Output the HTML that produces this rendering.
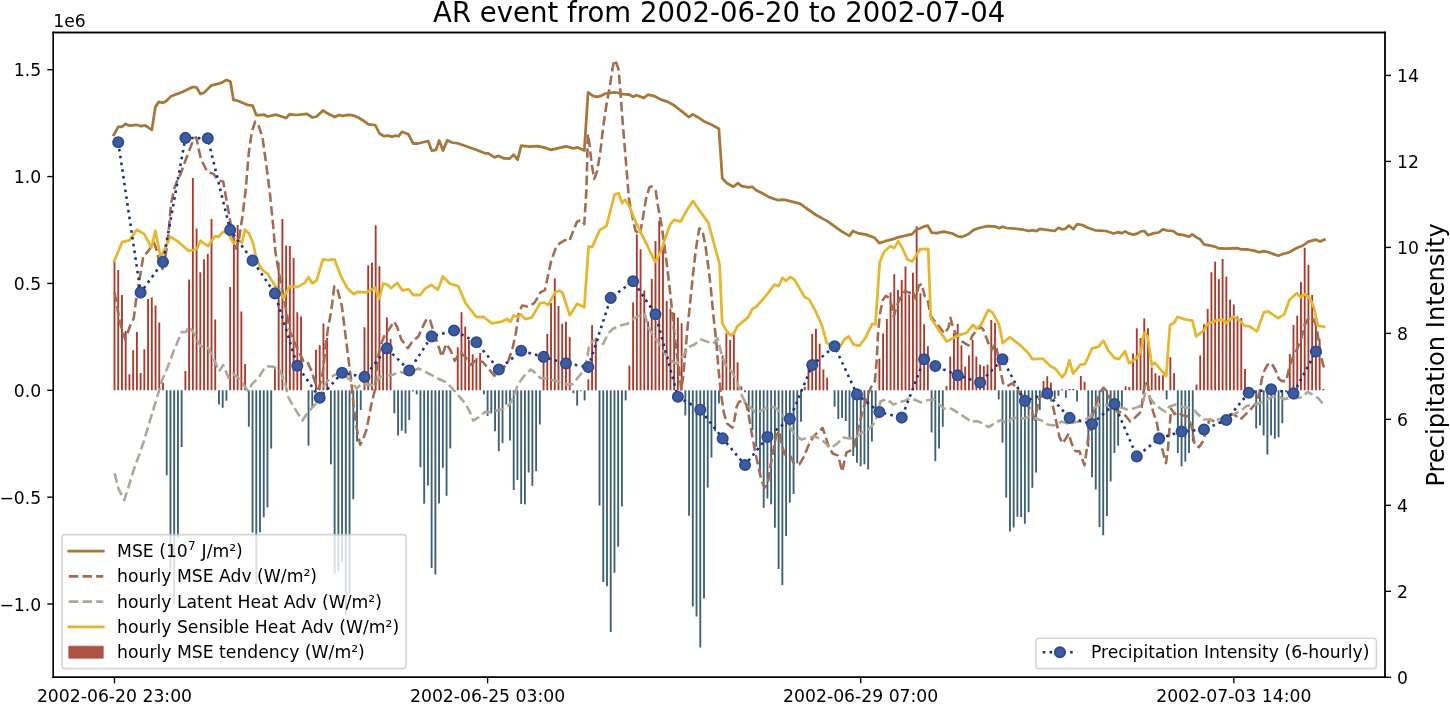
<!DOCTYPE html>
<html><head><meta charset="utf-8"><title>AR event from 2002-06-20 to 2002-07-04</title><style>html,body{margin:0;padding:0;background:#fff;overflow:hidden;}svg{display:block;}</style></head><body>
<svg width="1450" height="704" viewBox="0 0 841.935484 408.774194" version="1.1">
 
 <defs>
  <style type="text/css">*{stroke-linejoin: round; stroke-linecap: butt}</style>
 </defs>
 <g id="figure_1">
  <g id="patch_1">
   <path d="M 0 408.774194 
L 841.935484 408.774194 
L 841.935484 0 
L 0 0 
z
" style="fill: #ffffff"/>
  </g>
  <g id="axes_1">
   <g id="patch_2">
    <path d="M 30.948387 393.270968 
L 804.193548 393.270968 
L 804.193548 18.870968 
L 30.948387 18.870968 
z
" style="fill: #ffffff"/>
   </g>
   <g id="patch_3">
    <path d="M 65.942274 226.625806 
L 67.025468 226.625806 
L 67.025468 151.954839 
L 65.942274 151.954839 
z
" clip-path="url(#p5d248809db)" style="fill: #a93a2c"/>
   </g>
   <g id="patch_4">
    <path d="M 68.108661 226.625806 
L 69.191855 226.625806 
L 69.191855 156.774194 
L 68.108661 156.774194 
z
" clip-path="url(#p5d248809db)" style="fill: #a93a2c"/>
   </g>
   <g id="patch_5">
    <path d="M 70.275048 226.625806 
L 71.358242 226.625806 
L 71.358242 171.232258 
L 70.275048 171.232258 
z
" clip-path="url(#p5d248809db)" style="fill: #a93a2c"/>
   </g>
   <g id="patch_6">
    <path d="M 72.441435 226.625806 
L 73.524629 226.625806 
L 73.524629 192.135484 
L 72.441435 192.135484 
z
" clip-path="url(#p5d248809db)" style="fill: #a93a2c"/>
   </g>
   <g id="patch_7">
    <path d="M 74.607823 226.625806 
L 75.691016 226.625806 
L 75.691016 217.277419 
L 74.607823 217.277419 
z
" clip-path="url(#p5d248809db)" style="fill: #a93a2c"/>
   </g>
   <g id="patch_8">
    <path d="M 76.77421 226.625806 
L 77.857403 226.625806 
L 77.857403 203.4 
L 76.77421 203.4 
z
" clip-path="url(#p5d248809db)" style="fill: #a93a2c"/>
   </g>
   <g id="patch_9">
    <path d="M 78.940597 226.625806 
L 80.02379 226.625806 
L 80.02379 192.774194 
L 78.940597 192.774194 
z
" clip-path="url(#p5d248809db)" style="fill: #a93a2c"/>
   </g>
   <g id="patch_10">
    <path d="M 81.106984 226.625806 
L 82.190177 226.625806 
L 82.190177 216.522581 
L 81.106984 216.522581 
z
" clip-path="url(#p5d248809db)" style="fill: #a93a2c"/>
   </g>
   <g id="patch_11">
    <path d="M 83.273371 226.625806 
L 84.356565 226.625806 
L 84.356565 202.819355 
L 83.273371 202.819355 
z
" clip-path="url(#p5d248809db)" style="fill: #a93a2c"/>
   </g>
   <g id="patch_12">
    <path d="M 85.439758 226.625806 
L 86.522952 226.625806 
L 86.522952 173.612903 
L 85.439758 173.612903 
z
" clip-path="url(#p5d248809db)" style="fill: #a93a2c"/>
   </g>
   <g id="patch_13">
    <path d="M 87.606145 226.625806 
L 88.689339 226.625806 
L 88.689339 172.683871 
L 87.606145 172.683871 
z
" clip-path="url(#p5d248809db)" style="fill: #a93a2c"/>
   </g>
   <g id="patch_14">
    <path d="M 89.772532 226.625806 
L 90.855726 226.625806 
L 90.855726 177.445161 
L 89.772532 177.445161 
z
" clip-path="url(#p5d248809db)" style="fill: #a93a2c"/>
   </g>
   <g id="patch_15">
    <path d="M 91.938919 226.625806 
L 93.022113 226.625806 
L 93.022113 187.258065 
L 91.938919 187.258065 
z
" clip-path="url(#p5d248809db)" style="fill: #a93a2c"/>
   </g>
   <g id="patch_16">
    <path d="M 94.105306 226.625806 
L 95.1885 226.625806 
L 95.1885 222.270968 
L 94.105306 222.270968 
z
" clip-path="url(#p5d248809db)" style="fill: #a93a2c"/>
   </g>
   <g id="patch_17">
    <path d="M 96.271694 226.625806 
L 97.354887 226.625806 
L 97.354887 275.922581 
L 96.271694 275.922581 
z
" clip-path="url(#p5d248809db)" style="fill: #3e6075"/>
   </g>
   <g id="patch_18">
    <path d="M 98.438081 226.625806 
L 99.521274 226.625806 
L 99.521274 330.619355 
L 98.438081 330.619355 
z
" clip-path="url(#p5d248809db)" style="fill: #3e6075"/>
   </g>
   <g id="patch_19">
    <path d="M 100.604468 226.625806 
L 101.687661 226.625806 
L 101.687661 350.535484 
L 100.604468 350.535484 
z
" clip-path="url(#p5d248809db)" style="fill: #3e6075"/>
   </g>
   <g id="patch_20">
    <path d="M 102.770855 226.625806 
L 103.854048 226.625806 
L 103.854048 312.387097 
L 102.770855 312.387097 
z
" clip-path="url(#p5d248809db)" style="fill: #3e6075"/>
   </g>
   <g id="patch_21">
    <path d="M 104.937242 226.625806 
L 106.020435 226.625806 
L 106.020435 259.548387 
L 104.937242 259.548387 
z
" clip-path="url(#p5d248809db)" style="fill: #3e6075"/>
   </g>
   <g id="patch_22">
    <path d="M 107.103629 226.625806 
L 108.186823 226.625806 
L 108.186823 215.36129 
L 107.103629 215.36129 
z
" clip-path="url(#p5d248809db)" style="fill: #a93a2c"/>
   </g>
   <g id="patch_23">
    <path d="M 109.270016 226.625806 
L 110.35321 226.625806 
L 110.35321 162.232258 
L 109.270016 162.232258 
z
" clip-path="url(#p5d248809db)" style="fill: #a93a2c"/>
   </g>
   <g id="patch_24">
    <path d="M 111.436403 226.625806 
L 112.519597 226.625806 
L 112.519597 103.354839 
L 111.436403 103.354839 
z
" clip-path="url(#p5d248809db)" style="fill: #a93a2c"/>
   </g>
   <g id="patch_25">
    <path d="M 113.60279 226.625806 
L 114.685984 226.625806 
L 114.685984 132.677419 
L 113.60279 132.677419 
z
" clip-path="url(#p5d248809db)" style="fill: #a93a2c"/>
   </g>
   <g id="patch_26">
    <path d="M 115.769177 226.625806 
L 116.852371 226.625806 
L 116.852371 158.051613 
L 115.769177 158.051613 
z
" clip-path="url(#p5d248809db)" style="fill: #a93a2c"/>
   </g>
   <g id="patch_27">
    <path d="M 117.935565 226.625806 
L 119.018758 226.625806 
L 119.018758 150.56129 
L 117.935565 150.56129 
z
" clip-path="url(#p5d248809db)" style="fill: #a93a2c"/>
   </g>
   <g id="patch_28">
    <path d="M 120.101952 226.625806 
L 121.185145 226.625806 
L 121.185145 147.541935 
L 120.101952 147.541935 
z
" clip-path="url(#p5d248809db)" style="fill: #a93a2c"/>
   </g>
   <g id="patch_29">
    <path d="M 122.268339 226.625806 
L 123.351532 226.625806 
L 123.351532 127.103226 
L 122.268339 127.103226 
z
" clip-path="url(#p5d248809db)" style="fill: #a93a2c"/>
   </g>
   <g id="patch_30">
    <path d="M 124.434726 226.625806 
L 125.517919 226.625806 
L 125.517919 185.458065 
L 124.434726 185.458065 
z
" clip-path="url(#p5d248809db)" style="fill: #a93a2c"/>
   </g>
   <g id="patch_31">
    <path d="M 126.601113 226.625806 
L 127.684306 226.625806 
L 127.684306 234.929032 
L 126.601113 234.929032 
z
" clip-path="url(#p5d248809db)" style="fill: #3e6075"/>
   </g>
   <g id="patch_32">
    <path d="M 128.7675 226.625806 
L 129.850694 226.625806 
L 129.850694 236.787097 
L 128.7675 236.787097 
z
" clip-path="url(#p5d248809db)" style="fill: #3e6075"/>
   </g>
   <g id="patch_33">
    <path d="M 130.933887 226.625806 
L 132.017081 226.625806 
L 132.017081 232.664516 
L 130.933887 232.664516 
z
" clip-path="url(#p5d248809db)" style="fill: #3e6075"/>
   </g>
   <g id="patch_34">
    <path d="M 133.100274 226.625806 
L 134.183468 226.625806 
L 134.183468 166.703226 
L 133.100274 166.703226 
z
" clip-path="url(#p5d248809db)" style="fill: #a93a2c"/>
   </g>
   <g id="patch_35">
    <path d="M 135.266661 226.625806 
L 136.349855 226.625806 
L 136.349855 135.812903 
L 135.266661 135.812903 
z
" clip-path="url(#p5d248809db)" style="fill: #a93a2c"/>
   </g>
   <g id="patch_36">
    <path d="M 137.433048 226.625806 
L 138.516242 226.625806 
L 138.516242 130.645161 
L 137.433048 130.645161 
z
" clip-path="url(#p5d248809db)" style="fill: #a93a2c"/>
   </g>
   <g id="patch_37">
    <path d="M 139.599435 226.625806 
L 140.682629 226.625806 
L 140.682629 180.812903 
L 139.599435 180.812903 
z
" clip-path="url(#p5d248809db)" style="fill: #a93a2c"/>
   </g>
   <g id="patch_38">
    <path d="M 141.765823 226.625806 
L 142.849016 226.625806 
L 142.849016 211.296774 
L 141.765823 211.296774 
z
" clip-path="url(#p5d248809db)" style="fill: #a93a2c"/>
   </g>
   <g id="patch_39">
    <path d="M 143.93221 226.625806 
L 145.015403 226.625806 
L 145.015403 247.819355 
L 143.93221 247.819355 
z
" clip-path="url(#p5d248809db)" style="fill: #3e6075"/>
   </g>
   <g id="patch_40">
    <path d="M 146.098597 226.625806 
L 147.18179 226.625806 
L 147.18179 309.193548 
L 146.098597 309.193548 
z
" clip-path="url(#p5d248809db)" style="fill: #3e6075"/>
   </g>
   <g id="patch_41">
    <path d="M 148.264984 226.625806 
L 149.348177 226.625806 
L 149.348177 339.154839 
L 148.264984 339.154839 
z
" clip-path="url(#p5d248809db)" style="fill: #3e6075"/>
   </g>
   <g id="patch_42">
    <path d="M 150.431371 226.625806 
L 151.514565 226.625806 
L 151.514565 309.193548 
L 150.431371 309.193548 
z
" clip-path="url(#p5d248809db)" style="fill: #3e6075"/>
   </g>
   <g id="patch_43">
    <path d="M 152.597758 226.625806 
L 153.680952 226.625806 
L 153.680952 300.309677 
L 152.597758 300.309677 
z
" clip-path="url(#p5d248809db)" style="fill: #3e6075"/>
   </g>
   <g id="patch_44">
    <path d="M 154.764145 226.625806 
L 155.847339 226.625806 
L 155.847339 294.619355 
L 154.764145 294.619355 
z
" clip-path="url(#p5d248809db)" style="fill: #3e6075"/>
   </g>
   <g id="patch_45">
    <path d="M 156.930532 226.625806 
L 158.013726 226.625806 
L 158.013726 260.477419 
L 156.930532 260.477419 
z
" clip-path="url(#p5d248809db)" style="fill: #3e6075"/>
   </g>
   <g id="patch_46">
    <path d="M 159.096919 226.625806 
L 160.180113 226.625806 
L 160.180113 212.748387 
L 159.096919 212.748387 
z
" clip-path="url(#p5d248809db)" style="fill: #a93a2c"/>
   </g>
   <g id="patch_47">
    <path d="M 161.263306 226.625806 
L 162.3465 226.625806 
L 162.3465 152.36129 
L 161.263306 152.36129 
z
" clip-path="url(#p5d248809db)" style="fill: #a93a2c"/>
   </g>
   <g id="patch_48">
    <path d="M 163.429694 226.625806 
L 164.512887 226.625806 
L 164.512887 127.103226 
L 163.429694 127.103226 
z
" clip-path="url(#p5d248809db)" style="fill: #a93a2c"/>
   </g>
   <g id="patch_49">
    <path d="M 165.596081 226.625806 
L 166.679274 226.625806 
L 166.679274 142.490323 
L 165.596081 142.490323 
z
" clip-path="url(#p5d248809db)" style="fill: #a93a2c"/>
   </g>
   <g id="patch_50">
    <path d="M 167.762468 226.625806 
L 168.845661 226.625806 
L 168.845661 142.83871 
L 167.762468 142.83871 
z
" clip-path="url(#p5d248809db)" style="fill: #a93a2c"/>
   </g>
   <g id="patch_51">
    <path d="M 169.928855 226.625806 
L 171.012048 226.625806 
L 171.012048 149.806452 
L 169.928855 149.806452 
z
" clip-path="url(#p5d248809db)" style="fill: #a93a2c"/>
   </g>
   <g id="patch_52">
    <path d="M 172.095242 226.625806 
L 173.178435 226.625806 
L 173.178435 181.277419 
L 172.095242 181.277419 
z
" clip-path="url(#p5d248809db)" style="fill: #a93a2c"/>
   </g>
   <g id="patch_53">
    <path d="M 174.261629 226.625806 
L 175.344823 226.625806 
L 175.344823 183.716129 
L 174.261629 183.716129 
z
" clip-path="url(#p5d248809db)" style="fill: #a93a2c"/>
   </g>
   <g id="patch_54">
    <path d="M 176.428016 226.625806 
L 177.51121 226.625806 
L 177.51121 226.625806 
L 176.428016 226.625806 
z
" clip-path="url(#p5d248809db)" style="fill: #a93a2c"/>
   </g>
   <g id="patch_55">
    <path d="M 178.594403 226.625806 
L 179.677597 226.625806 
L 179.677597 258.793548 
L 178.594403 258.793548 
z
" clip-path="url(#p5d248809db)" style="fill: #3e6075"/>
   </g>
   <g id="patch_56">
    <path d="M 180.76079 226.625806 
L 181.843984 226.625806 
L 181.843984 236.090323 
L 180.76079 236.090323 
z
" clip-path="url(#p5d248809db)" style="fill: #3e6075"/>
   </g>
   <g id="patch_57">
    <path d="M 182.927177 226.625806 
L 184.010371 226.625806 
L 184.010371 203.109677 
L 182.927177 203.109677 
z
" clip-path="url(#p5d248809db)" style="fill: #a93a2c"/>
   </g>
   <g id="patch_58">
    <path d="M 185.093565 226.625806 
L 186.176758 226.625806 
L 186.176758 200.380645 
L 185.093565 200.380645 
z
" clip-path="url(#p5d248809db)" style="fill: #a93a2c"/>
   </g>
   <g id="patch_59">
    <path d="M 187.259952 226.625806 
L 188.343145 226.625806 
L 188.343145 187.83871 
L 187.259952 187.83871 
z
" clip-path="url(#p5d248809db)" style="fill: #a93a2c"/>
   </g>
   <g id="patch_60">
    <path d="M 189.426339 226.625806 
L 190.509532 226.625806 
L 190.509532 196.258065 
L 189.426339 196.258065 
z
" clip-path="url(#p5d248809db)" style="fill: #a93a2c"/>
   </g>
   <g id="patch_61">
    <path d="M 191.592726 226.625806 
L 192.675919 226.625806 
L 192.675919 269.593548 
L 191.592726 269.593548 
z
" clip-path="url(#p5d248809db)" style="fill: #3e6075"/>
   </g>
   <g id="patch_62">
    <path d="M 193.759113 226.625806 
L 194.842306 226.625806 
L 194.842306 333.348387 
L 193.759113 333.348387 
z
" clip-path="url(#p5d248809db)" style="fill: #3e6075"/>
   </g>
   <g id="patch_63">
    <path d="M 195.9255 226.625806 
L 197.008694 226.625806 
L 197.008694 331.548387 
L 195.9255 331.548387 
z
" clip-path="url(#p5d248809db)" style="fill: #3e6075"/>
   </g>
   <g id="patch_64">
    <path d="M 198.091887 226.625806 
L 199.175081 226.625806 
L 199.175081 326.206452 
L 198.091887 326.206452 
z
" clip-path="url(#p5d248809db)" style="fill: #3e6075"/>
   </g>
   <g id="patch_65">
    <path d="M 200.258274 226.625806 
L 201.341468 226.625806 
L 201.341468 357.270968 
L 200.258274 357.270968 
z
" clip-path="url(#p5d248809db)" style="fill: #3e6075"/>
   </g>
   <g id="patch_66">
    <path d="M 202.424661 226.625806 
L 203.507855 226.625806 
L 203.507855 344.729032 
L 202.424661 344.729032 
z
" clip-path="url(#p5d248809db)" style="fill: #3e6075"/>
   </g>
   <g id="patch_67">
    <path d="M 204.591048 226.625806 
L 205.674242 226.625806 
L 205.674242 289.916129 
L 204.591048 289.916129 
z
" clip-path="url(#p5d248809db)" style="fill: #3e6075"/>
   </g>
   <g id="patch_68">
    <path d="M 206.757435 226.625806 
L 207.840629 226.625806 
L 207.840629 256.412903 
L 206.757435 256.412903 
z
" clip-path="url(#p5d248809db)" style="fill: #3e6075"/>
   </g>
   <g id="patch_69">
    <path d="M 208.923823 226.625806 
L 210.007016 226.625806 
L 210.007016 238.122581 
L 208.923823 238.122581 
z
" clip-path="url(#p5d248809db)" style="fill: #3e6075"/>
   </g>
   <g id="patch_70">
    <path d="M 211.09021 226.625806 
L 212.173403 226.625806 
L 212.173403 189.987097 
L 211.09021 189.987097 
z
" clip-path="url(#p5d248809db)" style="fill: #a93a2c"/>
   </g>
   <g id="patch_71">
    <path d="M 213.256597 226.625806 
L 214.33979 226.625806 
L 214.33979 154.045161 
L 213.256597 154.045161 
z
" clip-path="url(#p5d248809db)" style="fill: #a93a2c"/>
   </g>
   <g id="patch_72">
    <path d="M 215.422984 226.625806 
L 216.506177 226.625806 
L 216.506177 152.593548 
L 215.422984 152.593548 
z
" clip-path="url(#p5d248809db)" style="fill: #a93a2c"/>
   </g>
   <g id="patch_73">
    <path d="M 217.589371 226.625806 
L 218.672565 226.625806 
L 218.672565 130.819355 
L 217.589371 130.819355 
z
" clip-path="url(#p5d248809db)" style="fill: #a93a2c"/>
   </g>
   <g id="patch_74">
    <path d="M 219.755758 226.625806 
L 220.838952 226.625806 
L 220.838952 154.567742 
L 219.755758 154.567742 
z
" clip-path="url(#p5d248809db)" style="fill: #a93a2c"/>
   </g>
   <g id="patch_75">
    <path d="M 221.922145 226.625806 
L 223.005339 226.625806 
L 223.005339 202.064516 
L 221.922145 202.064516 
z
" clip-path="url(#p5d248809db)" style="fill: #a93a2c"/>
   </g>
   <g id="patch_76">
    <path d="M 224.088532 226.625806 
L 225.171726 226.625806 
L 225.171726 184.296774 
L 224.088532 184.296774 
z
" clip-path="url(#p5d248809db)" style="fill: #a93a2c"/>
   </g>
   <g id="patch_77">
    <path d="M 226.254919 226.625806 
L 227.338113 226.625806 
L 227.338113 196.780645 
L 226.254919 196.780645 
z
" clip-path="url(#p5d248809db)" style="fill: #a93a2c"/>
   </g>
   <g id="patch_78">
    <path d="M 228.421306 226.625806 
L 229.5045 226.625806 
L 229.5045 240.03871 
L 228.421306 240.03871 
z
" clip-path="url(#p5d248809db)" style="fill: #3e6075"/>
   </g>
   <g id="patch_79">
    <path d="M 230.587694 226.625806 
L 231.670887 226.625806 
L 231.670887 252.870968 
L 230.587694 252.870968 
z
" clip-path="url(#p5d248809db)" style="fill: #3e6075"/>
   </g>
   <g id="patch_80">
    <path d="M 232.754081 226.625806 
L 233.837274 226.625806 
L 233.837274 250.083871 
L 232.754081 250.083871 
z
" clip-path="url(#p5d248809db)" style="fill: #3e6075"/>
   </g>
   <g id="patch_81">
    <path d="M 234.920468 226.625806 
L 236.003661 226.625806 
L 236.003661 251.651613 
L 234.920468 251.651613 
z
" clip-path="url(#p5d248809db)" style="fill: #3e6075"/>
   </g>
   <g id="patch_82">
    <path d="M 237.086855 226.625806 
L 238.170048 226.625806 
L 238.170048 243.870968 
L 237.086855 243.870968 
z
" clip-path="url(#p5d248809db)" style="fill: #3e6075"/>
   </g>
   <g id="patch_83">
    <path d="M 239.253242 226.625806 
L 240.336435 226.625806 
L 240.336435 227.380645 
L 239.253242 227.380645 
z
" clip-path="url(#p5d248809db)" style="fill: #3e6075"/>
   </g>
   <g id="patch_84">
    <path d="M 241.419629 226.625806 
L 242.502823 226.625806 
L 242.502823 228.948387 
L 241.419629 228.948387 
z
" clip-path="url(#p5d248809db)" style="fill: #3e6075"/>
   </g>
   <g id="patch_85">
    <path d="M 243.586016 226.625806 
L 244.66921 226.625806 
L 244.66921 271.393548 
L 243.586016 271.393548 
z
" clip-path="url(#p5d248809db)" style="fill: #3e6075"/>
   </g>
   <g id="patch_86">
    <path d="M 245.752403 226.625806 
L 246.835597 226.625806 
L 246.835597 292.470968 
L 245.752403 292.470968 
z
" clip-path="url(#p5d248809db)" style="fill: #3e6075"/>
   </g>
   <g id="patch_87">
    <path d="M 247.91879 226.625806 
L 249.001984 226.625806 
L 249.001984 281.96129 
L 247.91879 281.96129 
z
" clip-path="url(#p5d248809db)" style="fill: #3e6075"/>
   </g>
   <g id="patch_88">
    <path d="M 250.085177 226.625806 
L 251.168371 226.625806 
L 251.168371 329.806452 
L 250.085177 329.806452 
z
" clip-path="url(#p5d248809db)" style="fill: #3e6075"/>
   </g>
   <g id="patch_89">
    <path d="M 252.251565 226.625806 
L 253.334758 226.625806 
L 253.334758 333.580645 
L 252.251565 333.580645 
z
" clip-path="url(#p5d248809db)" style="fill: #3e6075"/>
   </g>
   <g id="patch_90">
    <path d="M 254.417952 226.625806 
L 255.501145 226.625806 
L 255.501145 292.296774 
L 254.417952 292.296774 
z
" clip-path="url(#p5d248809db)" style="fill: #3e6075"/>
   </g>
   <g id="patch_91">
    <path d="M 256.584339 226.625806 
L 257.667532 226.625806 
L 257.667532 271.625806 
L 256.584339 271.625806 
z
" clip-path="url(#p5d248809db)" style="fill: #3e6075"/>
   </g>
   <g id="patch_92">
    <path d="M 258.750726 226.625806 
L 259.833919 226.625806 
L 259.833919 287.883871 
L 258.750726 287.883871 
z
" clip-path="url(#p5d248809db)" style="fill: #3e6075"/>
   </g>
   <g id="patch_93">
    <path d="M 260.917113 226.625806 
L 262.000306 226.625806 
L 262.000306 260.36129 
L 260.917113 260.36129 
z
" clip-path="url(#p5d248809db)" style="fill: #3e6075"/>
   </g>
   <g id="patch_94">
    <path d="M 263.0835 226.625806 
L 264.166694 226.625806 
L 264.166694 226.625806 
L 263.0835 226.625806 
z
" clip-path="url(#p5d248809db)" style="fill: #a93a2c"/>
   </g>
   <g id="patch_95">
    <path d="M 265.249887 226.625806 
L 266.333081 226.625806 
L 266.333081 201.6 
L 265.249887 201.6 
z
" clip-path="url(#p5d248809db)" style="fill: #a93a2c"/>
   </g>
   <g id="patch_96">
    <path d="M 267.416274 226.625806 
L 268.499468 226.625806 
L 268.499468 181.277419 
L 267.416274 181.277419 
z
" clip-path="url(#p5d248809db)" style="fill: #a93a2c"/>
   </g>
   <g id="patch_97">
    <path d="M 269.582661 226.625806 
L 270.665855 226.625806 
L 270.665855 189.63871 
L 269.582661 189.63871 
z
" clip-path="url(#p5d248809db)" style="fill: #a93a2c"/>
   </g>
   <g id="patch_98">
    <path d="M 271.749048 226.625806 
L 272.832242 226.625806 
L 272.832242 197.419355 
L 271.749048 197.419355 
z
" clip-path="url(#p5d248809db)" style="fill: #a93a2c"/>
   </g>
   <g id="patch_99">
    <path d="M 273.915435 226.625806 
L 274.998629 226.625806 
L 274.998629 205.780645 
L 273.915435 205.780645 
z
" clip-path="url(#p5d248809db)" style="fill: #a93a2c"/>
   </g>
   <g id="patch_100">
    <path d="M 276.081823 226.625806 
L 277.165016 226.625806 
L 277.165016 207.929032 
L 276.081823 207.929032 
z
" clip-path="url(#p5d248809db)" style="fill: #a93a2c"/>
   </g>
   <g id="patch_101">
    <path d="M 278.24821 226.625806 
L 279.331403 226.625806 
L 279.331403 204.967742 
L 278.24821 204.967742 
z
" clip-path="url(#p5d248809db)" style="fill: #a93a2c"/>
   </g>
   <g id="patch_102">
    <path d="M 280.414597 226.625806 
L 281.49779 226.625806 
L 281.49779 228.948387 
L 280.414597 228.948387 
z
" clip-path="url(#p5d248809db)" style="fill: #3e6075"/>
   </g>
   <g id="patch_103">
    <path d="M 282.580984 226.625806 
L 283.664177 226.625806 
L 283.664177 241.490323 
L 282.580984 241.490323 
z
" clip-path="url(#p5d248809db)" style="fill: #3e6075"/>
   </g>
   <g id="patch_104">
    <path d="M 284.747371 226.625806 
L 285.830565 226.625806 
L 285.830565 240.03871 
L 284.747371 240.03871 
z
" clip-path="url(#p5d248809db)" style="fill: #3e6075"/>
   </g>
   <g id="patch_105">
    <path d="M 286.913758 226.625806 
L 287.996952 226.625806 
L 287.996952 250.432258 
L 286.913758 250.432258 
z
" clip-path="url(#p5d248809db)" style="fill: #3e6075"/>
   </g>
   <g id="patch_106">
    <path d="M 289.080145 226.625806 
L 290.163339 226.625806 
L 290.163339 262.045161 
L 289.080145 262.045161 
z
" clip-path="url(#p5d248809db)" style="fill: #3e6075"/>
   </g>
   <g id="patch_107">
    <path d="M 291.246532 226.625806 
L 292.329726 226.625806 
L 292.329726 257.283871 
L 291.246532 257.283871 
z
" clip-path="url(#p5d248809db)" style="fill: #3e6075"/>
   </g>
   <g id="patch_108">
    <path d="M 293.412919 226.625806 
L 294.496113 226.625806 
L 294.496113 234.929032 
L 293.412919 234.929032 
z
" clip-path="url(#p5d248809db)" style="fill: #3e6075"/>
   </g>
   <g id="patch_109">
    <path d="M 295.579306 226.625806 
L 296.6625 226.625806 
L 296.6625 255.832258 
L 295.579306 255.832258 
z
" clip-path="url(#p5d248809db)" style="fill: #3e6075"/>
   </g>
   <g id="patch_110">
    <path d="M 297.745694 226.625806 
L 298.828887 226.625806 
L 298.828887 284.516129 
L 297.745694 284.516129 
z
" clip-path="url(#p5d248809db)" style="fill: #3e6075"/>
   </g>
   <g id="patch_111">
    <path d="M 299.912081 226.625806 
L 300.995274 226.625806 
L 300.995274 278.767742 
L 299.912081 278.767742 
z
" clip-path="url(#p5d248809db)" style="fill: #3e6075"/>
   </g>
   <g id="patch_112">
    <path d="M 302.078468 226.625806 
L 303.161661 226.625806 
L 303.161661 292.645161 
L 302.078468 292.645161 
z
" clip-path="url(#p5d248809db)" style="fill: #3e6075"/>
   </g>
   <g id="patch_113">
    <path d="M 304.244855 226.625806 
L 305.328048 226.625806 
L 305.328048 292.877419 
L 304.244855 292.877419 
z
" clip-path="url(#p5d248809db)" style="fill: #3e6075"/>
   </g>
   <g id="patch_114">
    <path d="M 306.411242 226.625806 
L 307.494435 226.625806 
L 307.494435 274.354839 
L 306.411242 274.354839 
z
" clip-path="url(#p5d248809db)" style="fill: #3e6075"/>
   </g>
   <g id="patch_115">
    <path d="M 308.577629 226.625806 
L 309.660823 226.625806 
L 309.660823 282.135484 
L 308.577629 282.135484 
z
" clip-path="url(#p5d248809db)" style="fill: #3e6075"/>
   </g>
   <g id="patch_116">
    <path d="M 310.744016 226.625806 
L 311.82721 226.625806 
L 311.82721 273.541935 
L 310.744016 273.541935 
z
" clip-path="url(#p5d248809db)" style="fill: #3e6075"/>
   </g>
   <g id="patch_117">
    <path d="M 312.910403 226.625806 
L 313.993597 226.625806 
L 313.993597 246.483871 
L 312.910403 246.483871 
z
" clip-path="url(#p5d248809db)" style="fill: #3e6075"/>
   </g>
   <g id="patch_118">
    <path d="M 315.07679 226.625806 
L 316.159984 226.625806 
L 316.159984 210.658065 
L 315.07679 210.658065 
z
" clip-path="url(#p5d248809db)" style="fill: #a93a2c"/>
   </g>
   <g id="patch_119">
    <path d="M 317.243177 226.625806 
L 318.326371 226.625806 
L 318.326371 193.935484 
L 317.243177 193.935484 
z
" clip-path="url(#p5d248809db)" style="fill: #a93a2c"/>
   </g>
   <g id="patch_120">
    <path d="M 319.409565 226.625806 
L 320.492758 226.625806 
L 320.492758 175.993548 
L 319.409565 175.993548 
z
" clip-path="url(#p5d248809db)" style="fill: #a93a2c"/>
   </g>
   <g id="patch_121">
    <path d="M 321.575952 226.625806 
L 322.659145 226.625806 
L 322.659145 161.651613 
L 321.575952 161.651613 
z
" clip-path="url(#p5d248809db)" style="fill: #a93a2c"/>
   </g>
   <g id="patch_122">
    <path d="M 323.742339 226.625806 
L 324.825532 226.625806 
L 324.825532 177.677419 
L 323.742339 177.677419 
z
" clip-path="url(#p5d248809db)" style="fill: #a93a2c"/>
   </g>
   <g id="patch_123">
    <path d="M 325.908726 226.625806 
L 326.991919 226.625806 
L 326.991919 187.954839 
L 325.908726 187.954839 
z
" clip-path="url(#p5d248809db)" style="fill: #a93a2c"/>
   </g>
   <g id="patch_124">
    <path d="M 328.075113 226.625806 
L 329.158306 226.625806 
L 329.158306 186.793548 
L 328.075113 186.793548 
z
" clip-path="url(#p5d248809db)" style="fill: #a93a2c"/>
   </g>
   <g id="patch_125">
    <path d="M 330.2415 226.625806 
L 331.324694 226.625806 
L 331.324694 195.619355 
L 330.2415 195.619355 
z
" clip-path="url(#p5d248809db)" style="fill: #a93a2c"/>
   </g>
   <g id="patch_126">
    <path d="M 332.407887 226.625806 
L 333.491081 226.625806 
L 333.491081 228.309677 
L 332.407887 228.309677 
z
" clip-path="url(#p5d248809db)" style="fill: #3e6075"/>
   </g>
   <g id="patch_127">
    <path d="M 334.574274 226.625806 
L 335.657468 226.625806 
L 335.657468 235.509677 
L 334.574274 235.509677 
z
" clip-path="url(#p5d248809db)" style="fill: #3e6075"/>
   </g>
   <g id="patch_128">
    <path d="M 336.740661 226.625806 
L 337.823855 226.625806 
L 337.823855 227.148387 
L 336.740661 227.148387 
z
" clip-path="url(#p5d248809db)" style="fill: #3e6075"/>
   </g>
   <g id="patch_129">
    <path d="M 338.907048 226.625806 
L 339.990242 226.625806 
L 339.990242 232.490323 
L 338.907048 232.490323 
z
" clip-path="url(#p5d248809db)" style="fill: #3e6075"/>
   </g>
   <g id="patch_130">
    <path d="M 341.073435 226.625806 
L 342.156629 226.625806 
L 342.156629 220.296774 
L 341.073435 220.296774 
z
" clip-path="url(#p5d248809db)" style="fill: #a93a2c"/>
   </g>
   <g id="patch_131">
    <path d="M 343.239823 226.625806 
L 344.323016 226.625806 
L 344.323016 188.767742 
L 343.239823 188.767742 
z
" clip-path="url(#p5d248809db)" style="fill: #a93a2c"/>
   </g>
   <g id="patch_132">
    <path d="M 345.40621 226.625806 
L 346.489403 226.625806 
L 346.489403 196.2 
L 345.40621 196.2 
z
" clip-path="url(#p5d248809db)" style="fill: #a93a2c"/>
   </g>
   <g id="patch_133">
    <path d="M 347.572597 226.625806 
L 348.65579 226.625806 
L 348.65579 293.516129 
L 347.572597 293.516129 
z
" clip-path="url(#p5d248809db)" style="fill: #3e6075"/>
   </g>
   <g id="patch_134">
    <path d="M 349.738984 226.625806 
L 350.822177 226.625806 
L 350.822177 337.993548 
L 349.738984 337.993548 
z
" clip-path="url(#p5d248809db)" style="fill: #3e6075"/>
   </g>
   <g id="patch_135">
    <path d="M 351.905371 226.625806 
L 352.988565 226.625806 
L 352.988565 340.374194 
L 351.905371 340.374194 
z
" clip-path="url(#p5d248809db)" style="fill: #3e6075"/>
   </g>
   <g id="patch_136">
    <path d="M 354.071758 226.625806 
L 355.154952 226.625806 
L 355.154952 366.909677 
L 354.071758 366.909677 
z
" clip-path="url(#p5d248809db)" style="fill: #3e6075"/>
   </g>
   <g id="patch_137">
    <path d="M 356.238145 226.625806 
L 357.321339 226.625806 
L 357.321339 332.593548 
L 356.238145 332.593548 
z
" clip-path="url(#p5d248809db)" style="fill: #3e6075"/>
   </g>
   <g id="patch_138">
    <path d="M 358.404532 226.625806 
L 359.487726 226.625806 
L 359.487726 317.43871 
L 358.404532 317.43871 
z
" clip-path="url(#p5d248809db)" style="fill: #3e6075"/>
   </g>
   <g id="patch_139">
    <path d="M 360.570919 226.625806 
L 361.654113 226.625806 
L 361.654113 294.096774 
L 360.570919 294.096774 
z
" clip-path="url(#p5d248809db)" style="fill: #3e6075"/>
   </g>
   <g id="patch_140">
    <path d="M 362.737306 226.625806 
L 363.8205 226.625806 
L 363.8205 232.490323 
L 362.737306 232.490323 
z
" clip-path="url(#p5d248809db)" style="fill: #3e6075"/>
   </g>
   <g id="patch_141">
    <path d="M 364.903694 226.625806 
L 365.986887 226.625806 
L 365.986887 212.225806 
L 364.903694 212.225806 
z
" clip-path="url(#p5d248809db)" style="fill: #a93a2c"/>
   </g>
   <g id="patch_142">
    <path d="M 367.070081 226.625806 
L 368.153274 226.625806 
L 368.153274 175.587097 
L 367.070081 175.587097 
z
" clip-path="url(#p5d248809db)" style="fill: #a93a2c"/>
   </g>
   <g id="patch_143">
    <path d="M 369.236468 226.625806 
L 370.319661 226.625806 
L 370.319661 136.219355 
L 369.236468 136.219355 
z
" clip-path="url(#p5d248809db)" style="fill: #a93a2c"/>
   </g>
   <g id="patch_144">
    <path d="M 371.402855 226.625806 
L 372.486048 226.625806 
L 372.486048 144.754839 
L 371.402855 144.754839 
z
" clip-path="url(#p5d248809db)" style="fill: #a93a2c"/>
   </g>
   <g id="patch_145">
    <path d="M 373.569242 226.625806 
L 374.652435 226.625806 
L 374.652435 168.677419 
L 373.569242 168.677419 
z
" clip-path="url(#p5d248809db)" style="fill: #a93a2c"/>
   </g>
   <g id="patch_146">
    <path d="M 375.735629 226.625806 
L 376.818823 226.625806 
L 376.818823 186.503226 
L 375.735629 186.503226 
z
" clip-path="url(#p5d248809db)" style="fill: #a93a2c"/>
   </g>
   <g id="patch_147">
    <path d="M 377.902016 226.625806 
L 378.98521 226.625806 
L 378.98521 161.941935 
L 377.902016 161.941935 
z
" clip-path="url(#p5d248809db)" style="fill: #a93a2c"/>
   </g>
   <g id="patch_148">
    <path d="M 380.068403 226.625806 
L 381.151597 226.625806 
L 381.151597 139.935484 
L 380.068403 139.935484 
z
" clip-path="url(#p5d248809db)" style="fill: #a93a2c"/>
   </g>
   <g id="patch_149">
    <path d="M 382.23479 226.625806 
L 383.317984 226.625806 
L 383.317984 128.206452 
L 382.23479 128.206452 
z
" clip-path="url(#p5d248809db)" style="fill: #a93a2c"/>
   </g>
   <g id="patch_150">
    <path d="M 384.401177 226.625806 
L 385.484371 226.625806 
L 385.484371 141.03871 
L 384.401177 141.03871 
z
" clip-path="url(#p5d248809db)" style="fill: #a93a2c"/>
   </g>
   <g id="patch_151">
    <path d="M 386.567565 226.625806 
L 387.650758 226.625806 
L 387.650758 174.774194 
L 386.567565 174.774194 
z
" clip-path="url(#p5d248809db)" style="fill: #a93a2c"/>
   </g>
   <g id="patch_152">
    <path d="M 388.733952 226.625806 
L 389.817145 226.625806 
L 389.817145 179.129032 
L 388.733952 179.129032 
z
" clip-path="url(#p5d248809db)" style="fill: #a93a2c"/>
   </g>
   <g id="patch_153">
    <path d="M 390.900339 226.625806 
L 391.983532 226.625806 
L 391.983532 181.683871 
L 390.900339 181.683871 
z
" clip-path="url(#p5d248809db)" style="fill: #a93a2c"/>
   </g>
   <g id="patch_154">
    <path d="M 393.066726 226.625806 
L 394.149919 226.625806 
L 394.149919 184.412903 
L 393.066726 184.412903 
z
" clip-path="url(#p5d248809db)" style="fill: #a93a2c"/>
   </g>
   <g id="patch_155">
    <path d="M 395.233113 226.625806 
L 396.316306 226.625806 
L 396.316306 187.664516 
L 395.233113 187.664516 
z
" clip-path="url(#p5d248809db)" style="fill: #a93a2c"/>
   </g>
   <g id="patch_156">
    <path d="M 397.3995 226.625806 
L 398.482694 226.625806 
L 398.482694 241.258065 
L 397.3995 241.258065 
z
" clip-path="url(#p5d248809db)" style="fill: #3e6075"/>
   </g>
   <g id="patch_157">
    <path d="M 399.565887 226.625806 
L 400.649081 226.625806 
L 400.649081 299.496774 
L 399.565887 299.496774 
z
" clip-path="url(#p5d248809db)" style="fill: #3e6075"/>
   </g>
   <g id="patch_158">
    <path d="M 401.732274 226.625806 
L 402.815468 226.625806 
L 402.815468 352.103226 
L 401.732274 352.103226 
z
" clip-path="url(#p5d248809db)" style="fill: #3e6075"/>
   </g>
   <g id="patch_159">
    <path d="M 403.898661 226.625806 
L 404.981855 226.625806 
L 404.981855 357.967742 
L 403.898661 357.967742 
z
" clip-path="url(#p5d248809db)" style="fill: #3e6075"/>
   </g>
   <g id="patch_160">
    <path d="M 406.065048 226.625806 
L 407.148242 226.625806 
L 407.148242 376.025806 
L 406.065048 376.025806 
z
" clip-path="url(#p5d248809db)" style="fill: #3e6075"/>
   </g>
   <g id="patch_161">
    <path d="M 408.231435 226.625806 
L 409.314629 226.625806 
L 409.314629 347.516129 
L 408.231435 347.516129 
z
" clip-path="url(#p5d248809db)" style="fill: #3e6075"/>
   </g>
   <g id="patch_162">
    <path d="M 410.397823 226.625806 
L 411.481016 226.625806 
L 411.481016 283.122581 
L 410.397823 283.122581 
z
" clip-path="url(#p5d248809db)" style="fill: #3e6075"/>
   </g>
   <g id="patch_163">
    <path d="M 412.56421 226.625806 
L 413.647403 226.625806 
L 413.647403 265.645161 
L 412.56421 265.645161 
z
" clip-path="url(#p5d248809db)" style="fill: #3e6075"/>
   </g>
   <g id="patch_164">
    <path d="M 414.730597 226.625806 
L 415.81379 226.625806 
L 415.81379 250.432258 
L 414.730597 250.432258 
z
" clip-path="url(#p5d248809db)" style="fill: #3e6075"/>
   </g>
   <g id="patch_165">
    <path d="M 416.896984 226.625806 
L 417.980177 226.625806 
L 417.980177 234.290323 
L 416.896984 234.290323 
z
" clip-path="url(#p5d248809db)" style="fill: #3e6075"/>
   </g>
   <g id="patch_166">
    <path d="M 419.063371 226.625806 
L 420.146565 226.625806 
L 420.146565 206.36129 
L 419.063371 206.36129 
z
" clip-path="url(#p5d248809db)" style="fill: #a93a2c"/>
   </g>
   <g id="patch_167">
    <path d="M 421.229758 226.625806 
L 422.312952 226.625806 
L 422.312952 193.587097 
L 421.229758 193.587097 
z
" clip-path="url(#p5d248809db)" style="fill: #a93a2c"/>
   </g>
   <g id="patch_168">
    <path d="M 423.396145 226.625806 
L 424.479339 226.625806 
L 424.479339 197.419355 
L 423.396145 197.419355 
z
" clip-path="url(#p5d248809db)" style="fill: #a93a2c"/>
   </g>
   <g id="patch_169">
    <path d="M 425.562532 226.625806 
L 426.645726 226.625806 
L 426.645726 192.367742 
L 425.562532 192.367742 
z
" clip-path="url(#p5d248809db)" style="fill: #a93a2c"/>
   </g>
   <g id="patch_170">
    <path d="M 427.728919 226.625806 
L 428.812113 226.625806 
L 428.812113 210.309677 
L 427.728919 210.309677 
z
" clip-path="url(#p5d248809db)" style="fill: #a93a2c"/>
   </g>
   <g id="patch_171">
    <path d="M 429.895306 226.625806 
L 430.9785 226.625806 
L 430.9785 224.303226 
L 429.895306 224.303226 
z
" clip-path="url(#p5d248809db)" style="fill: #a93a2c"/>
   </g>
   <g id="patch_172">
    <path d="M 432.061694 226.625806 
L 433.144887 226.625806 
L 433.144887 227.729032 
L 432.061694 227.729032 
z
" clip-path="url(#p5d248809db)" style="fill: #3e6075"/>
   </g>
   <g id="patch_173">
    <path d="M 434.228081 226.625806 
L 435.311274 226.625806 
L 435.311274 239.225806 
L 434.228081 239.225806 
z
" clip-path="url(#p5d248809db)" style="fill: #3e6075"/>
   </g>
   <g id="patch_174">
    <path d="M 436.394468 226.625806 
L 437.477661 226.625806 
L 437.477661 249.677419 
L 436.394468 249.677419 
z
" clip-path="url(#p5d248809db)" style="fill: #3e6075"/>
   </g>
   <g id="patch_175">
    <path d="M 438.560855 226.625806 
L 439.644048 226.625806 
L 439.644048 259.432258 
L 438.560855 259.432258 
z
" clip-path="url(#p5d248809db)" style="fill: #3e6075"/>
   </g>
   <g id="patch_176">
    <path d="M 440.727242 226.625806 
L 441.810435 226.625806 
L 441.810435 273.774194 
L 440.727242 273.774194 
z
" clip-path="url(#p5d248809db)" style="fill: #3e6075"/>
   </g>
   <g id="patch_177">
    <path d="M 442.893629 226.625806 
L 443.976823 226.625806 
L 443.976823 294.851613 
L 442.893629 294.851613 
z
" clip-path="url(#p5d248809db)" style="fill: #3e6075"/>
   </g>
   <g id="patch_178">
    <path d="M 445.060016 226.625806 
L 446.14321 226.625806 
L 446.14321 289.451613 
L 445.060016 289.451613 
z
" clip-path="url(#p5d248809db)" style="fill: #3e6075"/>
   </g>
   <g id="patch_179">
    <path d="M 447.226403 226.625806 
L 448.309597 226.625806 
L 448.309597 292.819355 
L 447.226403 292.819355 
z
" clip-path="url(#p5d248809db)" style="fill: #3e6075"/>
   </g>
   <g id="patch_180">
    <path d="M 449.39279 226.625806 
L 450.475984 226.625806 
L 450.475984 306.464516 
L 449.39279 306.464516 
z
" clip-path="url(#p5d248809db)" style="fill: #3e6075"/>
   </g>
   <g id="patch_181">
    <path d="M 451.559177 226.625806 
L 452.642371 226.625806 
L 452.642371 330.387097 
L 451.559177 330.387097 
z
" clip-path="url(#p5d248809db)" style="fill: #3e6075"/>
   </g>
   <g id="patch_182">
    <path d="M 453.725565 226.625806 
L 454.808758 226.625806 
L 454.808758 339.677419 
L 453.725565 339.677419 
z
" clip-path="url(#p5d248809db)" style="fill: #3e6075"/>
   </g>
   <g id="patch_183">
    <path d="M 455.891952 226.625806 
L 456.975145 226.625806 
L 456.975145 311.225806 
L 455.891952 311.225806 
z
" clip-path="url(#p5d248809db)" style="fill: #3e6075"/>
   </g>
   <g id="patch_184">
    <path d="M 458.058339 226.625806 
L 459.141532 226.625806 
L 459.141532 291.890323 
L 458.058339 291.890323 
z
" clip-path="url(#p5d248809db)" style="fill: #3e6075"/>
   </g>
   <g id="patch_185">
    <path d="M 460.224726 226.625806 
L 461.307919 226.625806 
L 461.307919 286.83871 
L 460.224726 286.83871 
z
" clip-path="url(#p5d248809db)" style="fill: #3e6075"/>
   </g>
   <g id="patch_186">
    <path d="M 462.391113 226.625806 
L 463.474306 226.625806 
L 463.474306 269.012903 
L 462.391113 269.012903 
z
" clip-path="url(#p5d248809db)" style="fill: #3e6075"/>
   </g>
   <g id="patch_187">
    <path d="M 464.5575 226.625806 
L 465.640694 226.625806 
L 465.640694 244.858065 
L 464.5575 244.858065 
z
" clip-path="url(#p5d248809db)" style="fill: #3e6075"/>
   </g>
   <g id="patch_188">
    <path d="M 466.723887 226.625806 
L 467.807081 226.625806 
L 467.807081 224.651613 
L 466.723887 224.651613 
z
" clip-path="url(#p5d248809db)" style="fill: #a93a2c"/>
   </g>
   <g id="patch_189">
    <path d="M 468.890274 226.625806 
L 469.973468 226.625806 
L 469.973468 211.529032 
L 468.890274 211.529032 
z
" clip-path="url(#p5d248809db)" style="fill: #a93a2c"/>
   </g>
   <g id="patch_190">
    <path d="M 471.056661 226.625806 
L 472.139855 226.625806 
L 472.139855 193.935484 
L 471.056661 193.935484 
z
" clip-path="url(#p5d248809db)" style="fill: #a93a2c"/>
   </g>
   <g id="patch_191">
    <path d="M 473.223048 226.625806 
L 474.306242 226.625806 
L 474.306242 190.858065 
L 473.223048 190.858065 
z
" clip-path="url(#p5d248809db)" style="fill: #a93a2c"/>
   </g>
   <g id="patch_192">
    <path d="M 475.389435 226.625806 
L 476.472629 226.625806 
L 476.472629 199.567742 
L 475.389435 199.567742 
z
" clip-path="url(#p5d248809db)" style="fill: #a93a2c"/>
   </g>
   <g id="patch_193">
    <path d="M 477.555823 226.625806 
L 478.639016 226.625806 
L 478.639016 214.490323 
L 477.555823 214.490323 
z
" clip-path="url(#p5d248809db)" style="fill: #a93a2c"/>
   </g>
   <g id="patch_194">
    <path d="M 479.72221 226.625806 
L 480.805403 226.625806 
L 480.805403 219.309677 
L 479.72221 219.309677 
z
" clip-path="url(#p5d248809db)" style="fill: #a93a2c"/>
   </g>
   <g id="patch_195">
    <path d="M 481.888597 226.625806 
L 482.97179 226.625806 
L 482.97179 226.625806 
L 481.888597 226.625806 
z
" clip-path="url(#p5d248809db)" style="fill: #a93a2c"/>
   </g>
   <g id="patch_196">
    <path d="M 484.054984 226.625806 
L 485.138177 226.625806 
L 485.138177 236.090323 
L 484.054984 236.090323 
z
" clip-path="url(#p5d248809db)" style="fill: #3e6075"/>
   </g>
   <g id="patch_197">
    <path d="M 486.221371 226.625806 
L 487.304565 226.625806 
L 487.304565 243.290323 
L 486.221371 243.290323 
z
" clip-path="url(#p5d248809db)" style="fill: #3e6075"/>
   </g>
   <g id="patch_198">
    <path d="M 488.387758 226.625806 
L 489.470952 226.625806 
L 489.470952 242.709677 
L 488.387758 242.709677 
z
" clip-path="url(#p5d248809db)" style="fill: #3e6075"/>
   </g>
   <g id="patch_199">
    <path d="M 490.554145 226.625806 
L 491.637339 226.625806 
L 491.637339 244.451613 
L 490.554145 244.451613 
z
" clip-path="url(#p5d248809db)" style="fill: #3e6075"/>
   </g>
   <g id="patch_200">
    <path d="M 492.720532 226.625806 
L 493.803726 226.625806 
L 493.803726 254.032258 
L 492.720532 254.032258 
z
" clip-path="url(#p5d248809db)" style="fill: #3e6075"/>
   </g>
   <g id="patch_201">
    <path d="M 494.886919 226.625806 
L 495.970113 226.625806 
L 495.970113 264.774194 
L 494.886919 264.774194 
z
" clip-path="url(#p5d248809db)" style="fill: #3e6075"/>
   </g>
   <g id="patch_202">
    <path d="M 497.053306 226.625806 
L 498.1365 226.625806 
L 498.1365 268.722581 
L 497.053306 268.722581 
z
" clip-path="url(#p5d248809db)" style="fill: #3e6075"/>
   </g>
   <g id="patch_203">
    <path d="M 499.219694 226.625806 
L 500.302887 226.625806 
L 500.302887 270.754839 
L 499.219694 270.754839 
z
" clip-path="url(#p5d248809db)" style="fill: #3e6075"/>
   </g>
   <g id="patch_204">
    <path d="M 501.386081 226.625806 
L 502.469274 226.625806 
L 502.469274 269.593548 
L 501.386081 269.593548 
z
" clip-path="url(#p5d248809db)" style="fill: #3e6075"/>
   </g>
   <g id="patch_205">
    <path d="M 503.552468 226.625806 
L 504.635661 226.625806 
L 504.635661 272.554839 
L 503.552468 272.554839 
z
" clip-path="url(#p5d248809db)" style="fill: #3e6075"/>
   </g>
   <g id="patch_206">
    <path d="M 505.718855 226.625806 
L 506.802048 226.625806 
L 506.802048 256.412903 
L 505.718855 256.412903 
z
" clip-path="url(#p5d248809db)" style="fill: #3e6075"/>
   </g>
   <g id="patch_207">
    <path d="M 507.885242 226.625806 
L 508.968435 226.625806 
L 508.968435 238.470968 
L 507.885242 238.470968 
z
" clip-path="url(#p5d248809db)" style="fill: #3e6075"/>
   </g>
   <g id="patch_208">
    <path d="M 510.051629 226.625806 
L 511.134823 226.625806 
L 511.134823 208.219355 
L 510.051629 208.219355 
z
" clip-path="url(#p5d248809db)" style="fill: #a93a2c"/>
   </g>
   <g id="patch_209">
    <path d="M 512.218016 226.625806 
L 513.30121 226.625806 
L 513.30121 193.645161 
L 512.218016 193.645161 
z
" clip-path="url(#p5d248809db)" style="fill: #a93a2c"/>
   </g>
   <g id="patch_210">
    <path d="M 514.384403 226.625806 
L 515.467597 226.625806 
L 515.467597 185.167742 
L 514.384403 185.167742 
z
" clip-path="url(#p5d248809db)" style="fill: #a93a2c"/>
   </g>
   <g id="patch_211">
    <path d="M 516.55079 226.625806 
L 517.633984 226.625806 
L 517.633984 169.83871 
L 516.55079 169.83871 
z
" clip-path="url(#p5d248809db)" style="fill: #a93a2c"/>
   </g>
   <g id="patch_212">
    <path d="M 518.717177 226.625806 
L 519.800371 226.625806 
L 519.800371 159.212903 
L 518.717177 159.212903 
z
" clip-path="url(#p5d248809db)" style="fill: #a93a2c"/>
   </g>
   <g id="patch_213">
    <path d="M 520.883565 226.625806 
L 521.966758 226.625806 
L 521.966758 168.445161 
L 520.883565 168.445161 
z
" clip-path="url(#p5d248809db)" style="fill: #a93a2c"/>
   </g>
   <g id="patch_214">
    <path d="M 523.049952 226.625806 
L 524.133145 226.625806 
L 524.133145 162.63871 
L 523.049952 162.63871 
z
" clip-path="url(#p5d248809db)" style="fill: #a93a2c"/>
   </g>
   <g id="patch_215">
    <path d="M 525.216339 226.625806 
L 526.299532 226.625806 
L 526.299532 154.741935 
L 525.216339 154.741935 
z
" clip-path="url(#p5d248809db)" style="fill: #a93a2c"/>
   </g>
   <g id="patch_216">
    <path d="M 527.382726 226.625806 
L 528.465919 226.625806 
L 528.465919 171 
L 527.382726 171 
z
" clip-path="url(#p5d248809db)" style="fill: #a93a2c"/>
   </g>
   <g id="patch_217">
    <path d="M 529.549113 226.625806 
L 530.632306 226.625806 
L 530.632306 158.341935 
L 529.549113 158.341935 
z
" clip-path="url(#p5d248809db)" style="fill: #a93a2c"/>
   </g>
   <g id="patch_218">
    <path d="M 531.7155 226.625806 
L 532.798694 226.625806 
L 532.798694 131.341935 
L 531.7155 131.341935 
z
" clip-path="url(#p5d248809db)" style="fill: #a93a2c"/>
   </g>
   <g id="patch_219">
    <path d="M 533.881887 226.625806 
L 534.965081 226.625806 
L 534.965081 170.303226 
L 533.881887 170.303226 
z
" clip-path="url(#p5d248809db)" style="fill: #a93a2c"/>
   </g>
   <g id="patch_220">
    <path d="M 536.048274 226.625806 
L 537.131468 226.625806 
L 537.131468 188.303226 
L 536.048274 188.303226 
z
" clip-path="url(#p5d248809db)" style="fill: #a93a2c"/>
   </g>
   <g id="patch_221">
    <path d="M 538.214661 226.625806 
L 539.297855 226.625806 
L 539.297855 201.019355 
L 538.214661 201.019355 
z
" clip-path="url(#p5d248809db)" style="fill: #a93a2c"/>
   </g>
   <g id="patch_222">
    <path d="M 540.381048 226.625806 
L 541.464242 226.625806 
L 541.464242 251.070968 
L 540.381048 251.070968 
z
" clip-path="url(#p5d248809db)" style="fill: #3e6075"/>
   </g>
   <g id="patch_223">
    <path d="M 542.547435 226.625806 
L 543.630629 226.625806 
L 543.630629 267.793548 
L 542.547435 267.793548 
z
" clip-path="url(#p5d248809db)" style="fill: #3e6075"/>
   </g>
   <g id="patch_224">
    <path d="M 544.713823 226.625806 
L 545.797016 226.625806 
L 545.797016 260.36129 
L 544.713823 260.36129 
z
" clip-path="url(#p5d248809db)" style="fill: #3e6075"/>
   </g>
   <g id="patch_225">
    <path d="M 546.88021 226.625806 
L 547.963403 226.625806 
L 547.963403 247.819355 
L 546.88021 247.819355 
z
" clip-path="url(#p5d248809db)" style="fill: #3e6075"/>
   </g>
   <g id="patch_226">
    <path d="M 549.046597 226.625806 
L 550.12979 226.625806 
L 550.12979 224.129032 
L 549.046597 224.129032 
z
" clip-path="url(#p5d248809db)" style="fill: #a93a2c"/>
   </g>
   <g id="patch_227">
    <path d="M 551.212984 226.625806 
L 552.296177 226.625806 
L 552.296177 207.058065 
L 551.212984 207.058065 
z
" clip-path="url(#p5d248809db)" style="fill: #a93a2c"/>
   </g>
   <g id="patch_228">
    <path d="M 553.379371 226.625806 
L 554.462565 226.625806 
L 554.462565 193.354839 
L 553.379371 193.354839 
z
" clip-path="url(#p5d248809db)" style="fill: #a93a2c"/>
   </g>
   <g id="patch_229">
    <path d="M 555.545758 226.625806 
L 556.628952 226.625806 
L 556.628952 188.070968 
L 555.545758 188.070968 
z
" clip-path="url(#p5d248809db)" style="fill: #a93a2c"/>
   </g>
   <g id="patch_230">
    <path d="M 557.712145 226.625806 
L 558.795339 226.625806 
L 558.795339 200.612903 
L 557.712145 200.612903 
z
" clip-path="url(#p5d248809db)" style="fill: #a93a2c"/>
   </g>
   <g id="patch_231">
    <path d="M 559.878532 226.625806 
L 560.961726 226.625806 
L 560.961726 212.864516 
L 559.878532 212.864516 
z
" clip-path="url(#p5d248809db)" style="fill: #a93a2c"/>
   </g>
   <g id="patch_232">
    <path d="M 562.044919 226.625806 
L 563.128113 226.625806 
L 563.128113 206.36129 
L 562.044919 206.36129 
z
" clip-path="url(#p5d248809db)" style="fill: #a93a2c"/>
   </g>
   <g id="patch_233">
    <path d="M 564.211306 226.625806 
L 565.2945 226.625806 
L 565.2945 197.303226 
L 564.211306 197.303226 
z
" clip-path="url(#p5d248809db)" style="fill: #a93a2c"/>
   </g>
   <g id="patch_234">
    <path d="M 566.377694 226.625806 
L 567.460887 226.625806 
L 567.460887 207.058065 
L 566.377694 207.058065 
z
" clip-path="url(#p5d248809db)" style="fill: #a93a2c"/>
   </g>
   <g id="patch_235">
    <path d="M 568.544081 226.625806 
L 569.627274 226.625806 
L 569.627274 211.703226 
L 568.544081 211.703226 
z
" clip-path="url(#p5d248809db)" style="fill: #a93a2c"/>
   </g>
   <g id="patch_236">
    <path d="M 570.710468 226.625806 
L 571.793661 226.625806 
L 571.793661 212.574194 
L 570.710468 212.574194 
z
" clip-path="url(#p5d248809db)" style="fill: #a93a2c"/>
   </g>
   <g id="patch_237">
    <path d="M 572.876855 226.625806 
L 573.960048 226.625806 
L 573.960048 211.703226 
L 572.876855 211.703226 
z
" clip-path="url(#p5d248809db)" style="fill: #a93a2c"/>
   </g>
   <g id="patch_238">
    <path d="M 575.043242 226.625806 
L 576.126435 226.625806 
L 576.126435 185.748387 
L 575.043242 185.748387 
z
" clip-path="url(#p5d248809db)" style="fill: #a93a2c"/>
   </g>
   <g id="patch_239">
    <path d="M 577.209629 226.625806 
L 578.292823 226.625806 
L 578.292823 187.606452 
L 577.209629 187.606452 
z
" clip-path="url(#p5d248809db)" style="fill: #a93a2c"/>
   </g>
   <g id="patch_240">
    <path d="M 579.376016 226.625806 
L 580.45921 226.625806 
L 580.45921 231.909677 
L 579.376016 231.909677 
z
" clip-path="url(#p5d248809db)" style="fill: #3e6075"/>
   </g>
   <g id="patch_241">
    <path d="M 581.542403 226.625806 
L 582.625597 226.625806 
L 582.625597 257.051613 
L 581.542403 257.051613 
z
" clip-path="url(#p5d248809db)" style="fill: #3e6075"/>
   </g>
   <g id="patch_242">
    <path d="M 583.70879 226.625806 
L 584.791984 226.625806 
L 584.791984 288.987097 
L 583.70879 288.987097 
z
" clip-path="url(#p5d248809db)" style="fill: #3e6075"/>
   </g>
   <g id="patch_243">
    <path d="M 585.875177 226.625806 
L 586.958371 226.625806 
L 586.958371 308.612903 
L 585.875177 308.612903 
z
" clip-path="url(#p5d248809db)" style="fill: #3e6075"/>
   </g>
   <g id="patch_244">
    <path d="M 588.041565 226.625806 
L 589.124758 226.625806 
L 589.124758 306.232258 
L 588.041565 306.232258 
z
" clip-path="url(#p5d248809db)" style="fill: #3e6075"/>
   </g>
   <g id="patch_245">
    <path d="M 590.207952 226.625806 
L 591.291145 226.625806 
L 591.291145 300.019355 
L 590.207952 300.019355 
z
" clip-path="url(#p5d248809db)" style="fill: #3e6075"/>
   </g>
   <g id="patch_246">
    <path d="M 592.374339 226.625806 
L 593.457532 226.625806 
L 593.457532 300.251613 
L 592.374339 300.251613 
z
" clip-path="url(#p5d248809db)" style="fill: #3e6075"/>
   </g>
   <g id="patch_247">
    <path d="M 594.540726 226.625806 
L 595.623919 226.625806 
L 595.623919 304.083871 
L 594.540726 304.083871 
z
" clip-path="url(#p5d248809db)" style="fill: #3e6075"/>
   </g>
   <g id="patch_248">
    <path d="M 596.707113 226.625806 
L 597.790306 226.625806 
L 597.790306 297.464516 
L 596.707113 297.464516 
z
" clip-path="url(#p5d248809db)" style="fill: #3e6075"/>
   </g>
   <g id="patch_249">
    <path d="M 598.8735 226.625806 
L 599.956694 226.625806 
L 599.956694 283.23871 
L 598.8735 283.23871 
z
" clip-path="url(#p5d248809db)" style="fill: #3e6075"/>
   </g>
   <g id="patch_250">
    <path d="M 601.039887 226.625806 
L 602.123081 226.625806 
L 602.123081 274.354839 
L 601.039887 274.354839 
z
" clip-path="url(#p5d248809db)" style="fill: #3e6075"/>
   </g>
   <g id="patch_251">
    <path d="M 603.206274 226.625806 
L 604.289468 226.625806 
L 604.289468 238.064516 
L 603.206274 238.064516 
z
" clip-path="url(#p5d248809db)" style="fill: #3e6075"/>
   </g>
   <g id="patch_252">
    <path d="M 605.372661 226.625806 
L 606.455855 226.625806 
L 606.455855 221.225806 
L 605.372661 221.225806 
z
" clip-path="url(#p5d248809db)" style="fill: #a93a2c"/>
   </g>
   <g id="patch_253">
    <path d="M 607.539048 226.625806 
L 608.622242 226.625806 
L 608.622242 218.43871 
L 607.539048 218.43871 
z
" clip-path="url(#p5d248809db)" style="fill: #a93a2c"/>
   </g>
   <g id="patch_254">
    <path d="M 609.705435 226.625806 
L 610.788629 226.625806 
L 610.788629 222.270968 
L 609.705435 222.270968 
z
" clip-path="url(#p5d248809db)" style="fill: #a93a2c"/>
   </g>
   <g id="patch_255">
    <path d="M 611.871823 226.625806 
L 612.955016 226.625806 
L 612.955016 231.677419 
L 611.871823 231.677419 
z
" clip-path="url(#p5d248809db)" style="fill: #3e6075"/>
   </g>
   <g id="patch_256">
    <path d="M 614.03821 226.625806 
L 615.121403 226.625806 
L 615.121403 229.76129 
L 614.03821 229.76129 
z
" clip-path="url(#p5d248809db)" style="fill: #3e6075"/>
   </g>
   <g id="patch_257">
    <path d="M 616.204597 226.625806 
L 617.28779 226.625806 
L 617.28779 225.987097 
L 616.204597 225.987097 
z
" clip-path="url(#p5d248809db)" style="fill: #a93a2c"/>
   </g>
   <g id="patch_258">
    <path d="M 618.370984 226.625806 
L 619.454177 226.625806 
L 619.454177 230.980645 
L 618.370984 230.980645 
z
" clip-path="url(#p5d248809db)" style="fill: #3e6075"/>
   </g>
   <g id="patch_259">
    <path d="M 620.537371 226.625806 
L 621.620565 226.625806 
L 621.620565 225.870968 
L 620.537371 225.870968 
z
" clip-path="url(#p5d248809db)" style="fill: #a93a2c"/>
   </g>
   <g id="patch_260">
    <path d="M 622.703758 226.625806 
L 623.786952 226.625806 
L 623.786952 225.870968 
L 622.703758 225.870968 
z
" clip-path="url(#p5d248809db)" style="fill: #a93a2c"/>
   </g>
   <g id="patch_261">
    <path d="M 624.870145 226.625806 
L 625.953339 226.625806 
L 625.953339 233.129032 
L 624.870145 233.129032 
z
" clip-path="url(#p5d248809db)" style="fill: #3e6075"/>
   </g>
   <g id="patch_262">
    <path d="M 627.036532 226.625806 
L 628.119726 226.625806 
L 628.119726 218.322581 
L 627.036532 218.322581 
z
" clip-path="url(#p5d248809db)" style="fill: #a93a2c"/>
   </g>
   <g id="patch_263">
    <path d="M 629.202919 226.625806 
L 630.286113 226.625806 
L 630.286113 221.690323 
L 629.202919 221.690323 
z
" clip-path="url(#p5d248809db)" style="fill: #a93a2c"/>
   </g>
   <g id="patch_264">
    <path d="M 631.369306 226.625806 
L 632.4525 226.625806 
L 632.4525 259.432258 
L 631.369306 259.432258 
z
" clip-path="url(#p5d248809db)" style="fill: #3e6075"/>
   </g>
   <g id="patch_265">
    <path d="M 633.535694 226.625806 
L 634.618887 226.625806 
L 634.618887 277.141935 
L 633.535694 277.141935 
z
" clip-path="url(#p5d248809db)" style="fill: #3e6075"/>
   </g>
   <g id="patch_266">
    <path d="M 635.702081 226.625806 
L 636.785274 226.625806 
L 636.785274 284.225806 
L 635.702081 284.225806 
z
" clip-path="url(#p5d248809db)" style="fill: #3e6075"/>
   </g>
   <g id="patch_267">
    <path d="M 637.868468 226.625806 
L 638.951661 226.625806 
L 638.951661 306 
L 637.868468 306 
z
" clip-path="url(#p5d248809db)" style="fill: #3e6075"/>
   </g>
   <g id="patch_268">
    <path d="M 640.034855 226.625806 
L 641.118048 226.625806 
L 641.118048 310.76129 
L 640.034855 310.76129 
z
" clip-path="url(#p5d248809db)" style="fill: #3e6075"/>
   </g>
   <g id="patch_269">
    <path d="M 642.201242 226.625806 
L 643.284435 226.625806 
L 643.284435 299.612903 
L 642.201242 299.612903 
z
" clip-path="url(#p5d248809db)" style="fill: #3e6075"/>
   </g>
   <g id="patch_270">
    <path d="M 644.367629 226.625806 
L 645.450823 226.625806 
L 645.450823 279.522581 
L 644.367629 279.522581 
z
" clip-path="url(#p5d248809db)" style="fill: #3e6075"/>
   </g>
   <g id="patch_271">
    <path d="M 646.534016 226.625806 
L 647.61721 226.625806 
L 647.61721 263.032258 
L 646.534016 263.032258 
z
" clip-path="url(#p5d248809db)" style="fill: #3e6075"/>
   </g>
   <g id="patch_272">
    <path d="M 648.700403 226.625806 
L 649.783597 226.625806 
L 649.783597 258.793548 
L 648.700403 258.793548 
z
" clip-path="url(#p5d248809db)" style="fill: #3e6075"/>
   </g>
   <g id="patch_273">
    <path d="M 650.86679 226.625806 
L 651.949984 226.625806 
L 651.949984 237.309677 
L 650.86679 237.309677 
z
" clip-path="url(#p5d248809db)" style="fill: #3e6075"/>
   </g>
   <g id="patch_274">
    <path d="M 653.033177 226.625806 
L 654.116371 226.625806 
L 654.116371 224.303226 
L 653.033177 224.303226 
z
" clip-path="url(#p5d248809db)" style="fill: #a93a2c"/>
   </g>
   <g id="patch_275">
    <path d="M 655.199565 226.625806 
L 656.282758 226.625806 
L 656.282758 224.709677 
L 655.199565 224.709677 
z
" clip-path="url(#p5d248809db)" style="fill: #a93a2c"/>
   </g>
   <g id="patch_276">
    <path d="M 657.365952 226.625806 
L 658.449145 226.625806 
L 658.449145 205.316129 
L 657.365952 205.316129 
z
" clip-path="url(#p5d248809db)" style="fill: #a93a2c"/>
   </g>
   <g id="patch_277">
    <path d="M 659.532339 226.625806 
L 660.615532 226.625806 
L 660.615532 190.625806 
L 659.532339 190.625806 
z
" clip-path="url(#p5d248809db)" style="fill: #a93a2c"/>
   </g>
   <g id="patch_278">
    <path d="M 661.698726 226.625806 
L 662.781919 226.625806 
L 662.781919 196.316129 
L 661.698726 196.316129 
z
" clip-path="url(#p5d248809db)" style="fill: #a93a2c"/>
   </g>
   <g id="patch_279">
    <path d="M 663.865113 226.625806 
L 664.948306 226.625806 
L 664.948306 184.877419 
L 663.865113 184.877419 
z
" clip-path="url(#p5d248809db)" style="fill: #a93a2c"/>
   </g>
   <g id="patch_280">
    <path d="M 666.0315 226.625806 
L 667.114694 226.625806 
L 667.114694 190.625806 
L 666.0315 190.625806 
z
" clip-path="url(#p5d248809db)" style="fill: #a93a2c"/>
   </g>
   <g id="patch_281">
    <path d="M 668.197887 226.625806 
L 669.281081 226.625806 
L 669.281081 213.329032 
L 668.197887 213.329032 
z
" clip-path="url(#p5d248809db)" style="fill: #a93a2c"/>
   </g>
   <g id="patch_282">
    <path d="M 670.364274 226.625806 
L 671.447468 226.625806 
L 671.447468 216.63871 
L 670.364274 216.63871 
z
" clip-path="url(#p5d248809db)" style="fill: #a93a2c"/>
   </g>
   <g id="patch_283">
    <path d="M 672.530661 226.625806 
L 673.613855 226.625806 
L 673.613855 218.090323 
L 672.530661 218.090323 
z
" clip-path="url(#p5d248809db)" style="fill: #a93a2c"/>
   </g>
   <g id="patch_284">
    <path d="M 674.697048 226.625806 
L 675.780242 226.625806 
L 675.780242 217.858065 
L 674.697048 217.858065 
z
" clip-path="url(#p5d248809db)" style="fill: #a93a2c"/>
   </g>
   <g id="patch_285">
    <path d="M 676.863435 226.625806 
L 677.946629 226.625806 
L 677.946629 231.909677 
L 676.863435 231.909677 
z
" clip-path="url(#p5d248809db)" style="fill: #3e6075"/>
   </g>
   <g id="patch_286">
    <path d="M 679.029823 226.625806 
L 680.113016 226.625806 
L 680.113016 207.348387 
L 679.029823 207.348387 
z
" clip-path="url(#p5d248809db)" style="fill: #a93a2c"/>
   </g>
   <g id="patch_287">
    <path d="M 681.19621 226.625806 
L 682.279403 226.625806 
L 682.279403 216.63871 
L 681.19621 216.63871 
z
" clip-path="url(#p5d248809db)" style="fill: #a93a2c"/>
   </g>
   <g id="patch_288">
    <path d="M 683.362597 226.625806 
L 684.44579 226.625806 
L 684.44579 263.032258 
L 683.362597 263.032258 
z
" clip-path="url(#p5d248809db)" style="fill: #3e6075"/>
   </g>
   <g id="patch_289">
    <path d="M 685.528984 226.625806 
L 686.612177 226.625806 
L 686.612177 270.754839 
L 685.528984 270.754839 
z
" clip-path="url(#p5d248809db)" style="fill: #3e6075"/>
   </g>
   <g id="patch_290">
    <path d="M 687.695371 226.625806 
L 688.778565 226.625806 
L 688.778565 268.025806 
L 687.695371 268.025806 
z
" clip-path="url(#p5d248809db)" style="fill: #3e6075"/>
   </g>
   <g id="patch_291">
    <path d="M 689.861758 226.625806 
L 690.944952 226.625806 
L 690.944952 263.032258 
L 689.861758 263.032258 
z
" clip-path="url(#p5d248809db)" style="fill: #3e6075"/>
   </g>
   <g id="patch_292">
    <path d="M 692.028145 226.625806 
L 693.111339 226.625806 
L 693.111339 256.296774 
L 692.028145 256.296774 
z
" clip-path="url(#p5d248809db)" style="fill: #3e6075"/>
   </g>
   <g id="patch_293">
    <path d="M 694.194532 226.625806 
L 695.277726 226.625806 
L 695.277726 223.258065 
L 694.194532 223.258065 
z
" clip-path="url(#p5d248809db)" style="fill: #a93a2c"/>
   </g>
   <g id="patch_294">
    <path d="M 696.360919 226.625806 
L 697.444113 226.625806 
L 697.444113 206.36129 
L 696.360919 206.36129 
z
" clip-path="url(#p5d248809db)" style="fill: #a93a2c"/>
   </g>
   <g id="patch_295">
    <path d="M 698.527306 226.625806 
L 699.6105 226.625806 
L 699.6105 188.303226 
L 698.527306 188.303226 
z
" clip-path="url(#p5d248809db)" style="fill: #a93a2c"/>
   </g>
   <g id="patch_296">
    <path d="M 700.693694 226.625806 
L 701.776887 226.625806 
L 701.776887 179.36129 
L 700.693694 179.36129 
z
" clip-path="url(#p5d248809db)" style="fill: #a93a2c"/>
   </g>
   <g id="patch_297">
    <path d="M 702.860081 226.625806 
L 703.943274 226.625806 
L 703.943274 158.051613 
L 702.860081 158.051613 
z
" clip-path="url(#p5d248809db)" style="fill: #a93a2c"/>
   </g>
   <g id="patch_298">
    <path d="M 705.026468 226.625806 
L 706.109661 226.625806 
L 706.109661 151.954839 
L 705.026468 151.954839 
z
" clip-path="url(#p5d248809db)" style="fill: #a93a2c"/>
   </g>
   <g id="patch_299">
    <path d="M 707.192855 226.625806 
L 708.276048 226.625806 
L 708.276048 162.058065 
L 707.192855 162.058065 
z
" clip-path="url(#p5d248809db)" style="fill: #a93a2c"/>
   </g>
   <g id="patch_300">
    <path d="M 709.359242 226.625806 
L 710.442435 226.625806 
L 710.442435 150.387097 
L 709.359242 150.387097 
z
" clip-path="url(#p5d248809db)" style="fill: #a93a2c"/>
   </g>
   <g id="patch_301">
    <path d="M 711.525629 226.625806 
L 712.608823 226.625806 
L 712.608823 160.606452 
L 711.525629 160.606452 
z
" clip-path="url(#p5d248809db)" style="fill: #a93a2c"/>
   </g>
   <g id="patch_302">
    <path d="M 713.692016 226.625806 
L 714.77521 226.625806 
L 714.77521 173.903226 
L 713.692016 173.903226 
z
" clip-path="url(#p5d248809db)" style="fill: #a93a2c"/>
   </g>
   <g id="patch_303">
    <path d="M 715.858403 226.625806 
L 716.941597 226.625806 
L 716.941597 176.806452 
L 715.858403 176.806452 
z
" clip-path="url(#p5d248809db)" style="fill: #a93a2c"/>
   </g>
   <g id="patch_304">
    <path d="M 718.02479 226.625806 
L 719.107984 226.625806 
L 719.107984 183.716129 
L 718.02479 183.716129 
z
" clip-path="url(#p5d248809db)" style="fill: #a93a2c"/>
   </g>
   <g id="patch_305">
    <path d="M 720.191177 226.625806 
L 721.274371 226.625806 
L 721.274371 184.703226 
L 720.191177 184.703226 
z
" clip-path="url(#p5d248809db)" style="fill: #a93a2c"/>
   </g>
   <g id="patch_306">
    <path d="M 722.357565 226.625806 
L 723.440758 226.625806 
L 723.440758 214.316129 
L 722.357565 214.316129 
z
" clip-path="url(#p5d248809db)" style="fill: #a93a2c"/>
   </g>
   <g id="patch_307">
    <path d="M 724.523952 226.625806 
L 725.607145 226.625806 
L 725.607145 226.625806 
L 724.523952 226.625806 
z
" clip-path="url(#p5d248809db)" style="fill: #a93a2c"/>
   </g>
   <g id="patch_308">
    <path d="M 726.690339 226.625806 
L 727.773532 226.625806 
L 727.773532 226.625806 
L 726.690339 226.625806 
z
" clip-path="url(#p5d248809db)" style="fill: #a93a2c"/>
   </g>
   <g id="patch_309">
    <path d="M 728.856726 226.625806 
L 729.939919 226.625806 
L 729.939919 248.690323 
L 728.856726 248.690323 
z
" clip-path="url(#p5d248809db)" style="fill: #3e6075"/>
   </g>
   <g id="patch_310">
    <path d="M 731.023113 226.625806 
L 732.106306 226.625806 
L 732.106306 246.948387 
L 731.023113 246.948387 
z
" clip-path="url(#p5d248809db)" style="fill: #3e6075"/>
   </g>
   <g id="patch_311">
    <path d="M 733.1895 226.625806 
L 734.272694 226.625806 
L 734.272694 252.812903 
L 733.1895 252.812903 
z
" clip-path="url(#p5d248809db)" style="fill: #3e6075"/>
   </g>
   <g id="patch_312">
    <path d="M 735.355887 226.625806 
L 736.439081 226.625806 
L 736.439081 263.96129 
L 735.355887 263.96129 
z
" clip-path="url(#p5d248809db)" style="fill: #3e6075"/>
   </g>
   <g id="patch_313">
    <path d="M 737.522274 226.625806 
L 738.605468 226.625806 
L 738.605468 252.812903 
L 737.522274 252.812903 
z
" clip-path="url(#p5d248809db)" style="fill: #3e6075"/>
   </g>
   <g id="patch_314">
    <path d="M 739.688661 226.625806 
L 740.771855 226.625806 
L 740.771855 254.729032 
L 739.688661 254.729032 
z
" clip-path="url(#p5d248809db)" style="fill: #3e6075"/>
   </g>
   <g id="patch_315">
    <path d="M 741.855048 226.625806 
L 742.938242 226.625806 
L 742.938242 253.916129 
L 741.855048 253.916129 
z
" clip-path="url(#p5d248809db)" style="fill: #3e6075"/>
   </g>
   <g id="patch_316">
    <path d="M 744.021435 226.625806 
L 745.104629 226.625806 
L 745.104629 245.787097 
L 744.021435 245.787097 
z
" clip-path="url(#p5d248809db)" style="fill: #3e6075"/>
   </g>
   <g id="patch_317">
    <path d="M 746.187823 226.625806 
L 747.271016 226.625806 
L 747.271016 227.787097 
L 746.187823 227.787097 
z
" clip-path="url(#p5d248809db)" style="fill: #3e6075"/>
   </g>
   <g id="patch_318">
    <path d="M 748.35421 226.625806 
L 749.437403 226.625806 
L 749.437403 205.664516 
L 748.35421 205.664516 
z
" clip-path="url(#p5d248809db)" style="fill: #a93a2c"/>
   </g>
   <g id="patch_319">
    <path d="M 750.520597 226.625806 
L 751.60379 226.625806 
L 751.60379 188.593548 
L 750.520597 188.593548 
z
" clip-path="url(#p5d248809db)" style="fill: #a93a2c"/>
   </g>
   <g id="patch_320">
    <path d="M 752.686984 226.625806 
L 753.770177 226.625806 
L 753.770177 183.309677 
L 752.686984 183.309677 
z
" clip-path="url(#p5d248809db)" style="fill: #a93a2c"/>
   </g>
   <g id="patch_321">
    <path d="M 754.853371 226.625806 
L 755.936565 226.625806 
L 755.936565 163.8 
L 754.853371 163.8 
z
" clip-path="url(#p5d248809db)" style="fill: #a93a2c"/>
   </g>
   <g id="patch_322">
    <path d="M 757.019758 226.625806 
L 758.102952 226.625806 
L 758.102952 143.883871 
L 757.019758 143.883871 
z
" clip-path="url(#p5d248809db)" style="fill: #a93a2c"/>
   </g>
   <g id="patch_323">
    <path d="M 759.186145 226.625806 
L 760.269339 226.625806 
L 760.269339 153.696774 
L 759.186145 153.696774 
z
" clip-path="url(#p5d248809db)" style="fill: #a93a2c"/>
   </g>
   <g id="patch_324">
    <path d="M 761.352532 226.625806 
L 762.435726 226.625806 
L 762.435726 171.290323 
L 761.352532 171.290323 
z
" clip-path="url(#p5d248809db)" style="fill: #a93a2c"/>
   </g>
   <g id="patch_325">
    <path d="M 763.518919 226.625806 
L 764.602113 226.625806 
L 764.602113 188.303226 
L 763.518919 188.303226 
z
" clip-path="url(#p5d248809db)" style="fill: #a93a2c"/>
   </g>
   <g id="patch_326">
    <path d="M 765.685306 226.625806 
L 766.7685 226.625806 
L 766.7685 196.722581 
L 765.685306 196.722581 
z
" clip-path="url(#p5d248809db)" style="fill: #a93a2c"/>
   </g>
   <g id="patch_327">
    <path d="M 767.851694 226.625806 
L 768.934887 226.625806 
L 768.934887 225.870968 
L 767.851694 225.870968 
z
" clip-path="url(#p5d248809db)" style="fill: #a93a2c"/>
   </g>
   <g id="matplotlib.axis_1">
    <g id="xtick_1">
     <g id="line2d_1">
      <defs>
       <path id="m8c716aa6e6" d="M 0 0 
L 0 3.5 
" style="stroke: #000000; stroke-width: 0.8"/>
      </defs>
      <g>
       <use href="#m8c716aa6e6" x="66.483871" y="393.270968" style="stroke: #000000; stroke-width: 0.8"/>
      </g>
     </g>
     <g id="text_1">
      <text style="font-size: 10px; font-family: 'DejaVu Sans', 'Liberation Sans', sans-serif; text-anchor: middle" x="66.483871" y="407.869405" transform="rotate(-0 66.483871 407.869405)">2002-06-20 23:00</text>
     </g>
    </g>
    <g id="xtick_2">
     <g id="line2d_2">
      <g>
       <use href="#m8c716aa6e6" x="283.122581" y="393.270968" style="stroke: #000000; stroke-width: 0.8"/>
      </g>
     </g>
     <g id="text_2">
      <text style="font-size: 10px; font-family: 'DejaVu Sans', 'Liberation Sans', sans-serif; text-anchor: middle" x="283.122581" y="407.869405" transform="rotate(-0 283.122581 407.869405)">2002-06-25 03:00</text>
     </g>
    </g>
    <g id="xtick_3">
     <g id="line2d_3">
      <g>
       <use href="#m8c716aa6e6" x="499.76129" y="393.270968" style="stroke: #000000; stroke-width: 0.8"/>
      </g>
     </g>
     <g id="text_3">
      <text style="font-size: 10px; font-family: 'DejaVu Sans', 'Liberation Sans', sans-serif; text-anchor: middle" x="499.76129" y="407.869405" transform="rotate(-0 499.76129 407.869405)">2002-06-29 07:00</text>
     </g>
    </g>
    <g id="xtick_4">
     <g id="line2d_4">
      <g>
       <use href="#m8c716aa6e6" x="716.4" y="393.270968" style="stroke: #000000; stroke-width: 0.8"/>
      </g>
     </g>
     <g id="text_4">
      <text style="font-size: 10px; font-family: 'DejaVu Sans', 'Liberation Sans', sans-serif; text-anchor: middle" x="716.4" y="407.869405" transform="rotate(-0 716.4 407.869405)">2002-07-03 14:00</text>
     </g>
    </g>
   </g>
   <g id="matplotlib.axis_2">
    <g id="ytick_1">
     <g id="line2d_5">
      <defs>
       <path id="m49f48f1c81" d="M 0 0 
L -3.5 0 
" style="stroke: #000000; stroke-width: 0.8"/>
      </defs>
      <g>
       <use href="#m49f48f1c81" x="30.948387" y="350.727097" style="stroke: #000000; stroke-width: 0.8"/>
      </g>
     </g>
     <g id="text_5">
      <text style="font-size: 10px; font-family: 'DejaVu Sans', 'Liberation Sans', sans-serif; text-anchor: end" x="23.948387" y="354.526316" transform="rotate(-0 23.948387 354.526316)">−1.0</text>
     </g>
    </g>
    <g id="ytick_2">
     <g id="line2d_6">
      <g>
       <use href="#m49f48f1c81" x="30.948387" y="288.676452" style="stroke: #000000; stroke-width: 0.8"/>
      </g>
     </g>
     <g id="text_6">
      <text style="font-size: 10px; font-family: 'DejaVu Sans', 'Liberation Sans', sans-serif; text-anchor: end" x="23.948387" y="292.47567" transform="rotate(-0 23.948387 292.47567)">−0.5</text>
     </g>
    </g>
    <g id="ytick_3">
     <g id="line2d_7">
      <g>
       <use href="#m49f48f1c81" x="30.948387" y="226.625806" style="stroke: #000000; stroke-width: 0.8"/>
      </g>
     </g>
     <g id="text_7">
      <text style="font-size: 10px; font-family: 'DejaVu Sans', 'Liberation Sans', sans-serif; text-anchor: end" x="23.948387" y="230.425025" transform="rotate(-0 23.948387 230.425025)">0.0</text>
     </g>
    </g>
    <g id="ytick_4">
     <g id="line2d_8">
      <g>
       <use href="#m49f48f1c81" x="30.948387" y="164.575161" style="stroke: #000000; stroke-width: 0.8"/>
      </g>
     </g>
     <g id="text_8">
      <text style="font-size: 10px; font-family: 'DejaVu Sans', 'Liberation Sans', sans-serif; text-anchor: end" x="23.948387" y="168.37438" transform="rotate(-0 23.948387 168.37438)">0.5</text>
     </g>
    </g>
    <g id="ytick_5">
     <g id="line2d_9">
      <g>
       <use href="#m49f48f1c81" x="30.948387" y="102.524516" style="stroke: #000000; stroke-width: 0.8"/>
      </g>
     </g>
     <g id="text_9">
      <text style="font-size: 10px; font-family: 'DejaVu Sans', 'Liberation Sans', sans-serif; text-anchor: end" x="23.948387" y="106.323735" transform="rotate(-0 23.948387 106.323735)">1.0</text>
     </g>
    </g>
    <g id="ytick_6">
     <g id="line2d_10">
      <g>
       <use href="#m49f48f1c81" x="30.948387" y="40.473871" style="stroke: #000000; stroke-width: 0.8"/>
      </g>
     </g>
     <g id="text_10">
      <text style="font-size: 10px; font-family: 'DejaVu Sans', 'Liberation Sans', sans-serif; text-anchor: end" x="23.948387" y="44.27309" transform="rotate(-0 23.948387 44.27309)">1.5</text>
     </g>
    </g>
    <g id="text_11">
     <text style="font-size: 10px; font-family: 'DejaVu Sans', 'Liberation Sans', sans-serif; text-anchor: start" x="30.948387" y="15.870968" transform="rotate(-0 30.948387 15.870968)">1e6</text>
    </g>
   </g>
   <g id="line2d_11">
    <path d="M 66.541935 169.896774 
L 69.619355 187.2 
L 72.696774 197.129032 
L 75.832258 188.419355 
L 77.690323 184.76129 
L 78.909677 174.832258 
L 83.206452 148.877419 
L 86.109677 145.741935 
L 89.419355 140.806452 
L 91.277419 146.322581 
L 92.729032 153.870968 
L 94.354839 156.193548 
L 95.980645 149.225806 
L 97.664516 137.612903 
L 99.290323 118.277419 
L 101.322581 109.16129 
L 103.006452 104.690323 
L 104.864516 100.974194 
L 108 92.322581 
L 112.296774 81.174194 
L 113.922581 79.722581 
L 116.651613 92.322581 
L 120.367742 99.754839 
L 124.025806 100.974194 
L 126.522581 104.690323 
L 129.6 105.329032 
L 135.812903 140.574194 
L 137.032258 144.290323 
L 138.890323 138.077419 
L 140.748387 125.709677 
L 142.606452 110.903226 
L 144.464516 88.606452 
L 146.322581 76.23871 
L 148.180645 70.664516 
L 150.03871 72.522581 
L 152.477419 79.954839 
L 154.974194 98.477419 
L 156.832258 113.341935 
L 158.690323 131.922581 
L 159.909677 146.322581 
L 161.767742 157.529032 
L 166.064516 179.767742 
L 168.735484 193.470968 
L 172.451613 202.180645 
L 176.167742 209.554839 
L 178.025806 209.322581 
L 180.522581 214.548387 
L 182.96129 221.922581 
L 184.819355 225.63871 
L 186.677419 220.703226 
L 187.954839 212.051613 
L 189.174194 199.683871 
L 190.393548 191.032258 
L 192.251613 181.103226 
L 194.109677 166.296774 
L 195.967742 168.154839 
L 198.464516 177.445161 
L 204.03871 221.922581 
L 205.548387 237.890323 
L 207.348387 249.851613 
L 209.148387 258.212903 
L 210.948387 254.612903 
L 212.690323 249.851613 
L 213.909677 243.870968 
L 215.709677 234.290323 
L 217.509677 227.148387 
L 219.483871 207.116129 
L 221.341935 199.683871 
L 223.780645 193.470968 
L 225.63871 191.670968 
L 228.774194 186.677419 
L 230.574194 189.812903 
L 233.070968 197.187097 
L 236.787097 202.180645 
L 239.283871 198.464516 
L 242.941935 195.329032 
L 245.43871 189.812903 
L 247.935484 184.819355 
L 249.793548 186.096774 
L 251.651613 192.251613 
L 256.587097 207.116129 
L 259.025806 199.683871 
L 261.522581 203.225806 
L 264.019355 209.554839 
L 267.096774 204.619355 
L 270.174194 207.116129 
L 272.903226 212.051613 
L 276.619355 208.974194 
L 280.335484 210.193548 
L 287.129032 218.206452 
L 291.425806 215.129032 
L 295.141935 209.554839 
L 297.63871 202.180645 
L 299.496774 193.470968 
L 301.354839 181.103226 
L 303.212903 177.445161 
L 306.290323 178.025806 
L 310.006452 176.167742 
L 312.503226 172.451613 
L 313.896774 169.664516 
L 316.393548 168.445161 
L 320.109677 151.141935 
L 322.606452 144.348387 
L 325.045161 141.212903 
L 328.122581 139.412903 
L 330.619355 139.993548 
L 332.477419 135.058065 
L 334.974194 128.845161 
L 337.412903 127.625806 
L 339.270968 130.122581 
L 340.490323 110.322581 
L 341.36129 77.864516 
L 342.348387 84.658065 
L 343.625806 95.806452 
L 345.077419 103.877419 
L 346.703226 99.522581 
L 348.56129 88.374194 
L 350.419355 72.290323 
L 352.277419 59.922581 
L 354.135484 50.051613 
L 355.703226 39.6 
L 356.690323 34.83871 
L 357.967742 36.870968 
L 359.012903 39.774194 
L 359.593548 45.058065 
L 360.290323 53.767742 
L 361.16129 66.135484 
L 364.412903 105.735484 
L 365.225806 115.606452 
L 366.503226 122.690323 
L 368.941935 133.83871 
L 371.43871 136.277419 
L 373.296774 126.406452 
L 375.154839 115.258065 
L 377.012903 108.870968 
L 378.232258 108.174194 
L 380.729032 110.670968 
L 381.948387 118.974194 
L 383.806452 128.845161 
L 385.664516 141.212903 
L 387.522581 156.077419 
L 389.380645 172.16129 
L 391.23871 190.683871 
L 392.516129 201.425806 
L 394.374194 215.012903 
L 395.593548 226.16129 
L 396.812903 217.451613 
L 399.309677 189.058065 
L 400.529032 177.909677 
L 402.329032 159.793548 
L 404.187097 143.709677 
L 406.045161 132.56129 
L 407.903226 133.83871 
L 409.76129 143.709677 
L 411.619355 157.296774 
L 412.83871 168.445161 
L 414.116129 182.032258 
L 415.974194 198.929032 
L 417.251613 215.012903 
L 418.470968 227.380645 
L 420.329032 239.748387 
L 422.187097 245.903226 
L 425.264516 248.4 
L 426.483871 243.464516 
L 427.76129 236.032258 
L 428.980645 233.535484 
L 431.477419 232.316129 
L 433.335484 234.812903 
L 434.612903 240.445161 
L 436.470968 251.535484 
L 438.329032 261.464516 
L 442.045161 278.767742 
L 443.903226 283.122581 
L 445.76129 281.264516 
L 446.980645 272.612903 
L 450.696774 252.812903 
L 452.554839 250.316129 
L 453.774194 257.748387 
L 455.632258 263.903226 
L 458.767742 264.541935 
L 461.206452 269.477419 
L 464.283871 269.477419 
L 466.780645 265.180645 
L 469.277419 258.967742 
L 472.354839 253.393548 
L 475.432258 250.316129 
L 477.63871 248.458065 
L 479.148387 252.812903 
L 481.006452 258.967742 
L 483.503226 263.322581 
L 486.580645 264.541935 
L 487.8 268.896774 
L 489.019355 273.832258 
L 490.296774 267.619355 
L 491.516129 262.683871 
L 494.012903 261.464516 
L 495.812903 260.245161 
L 497.670968 251.535484 
L 501.387097 236.729032 
L 503.883871 229.296774 
L 505.741935 224.883871 
L 508.006452 221.4 
L 509.167742 207.580645 
L 509.748387 194.864516 
L 510.909677 182.148387 
L 512.651613 174.077419 
L 514.393548 171.754839 
L 516.135484 172.916129 
L 517.819355 177.56129 
L 518.980645 183.890323 
L 520.722581 177.56129 
L 523.045161 172.335484 
L 525.367742 168.909677 
L 528.212903 170.070968 
L 529.954839 168.909677 
L 531.696774 173.496774 
L 533.43871 166.006452 
L 535.122581 164.845161 
L 536.864516 171.754839 
L 538.606452 174.077419 
L 540.348387 183.309677 
L 542.090323 185.632258 
L 544.935484 189.116129 
L 548.419355 193.703226 
L 550.741935 190.219355 
L 551.903226 184.470968 
L 553.064516 189.116129 
L 555.329032 194.864516 
L 558.812903 198.348387 
L 562.296774 200.612903 
L 564.56129 194.864516 
L 567.464516 191.380645 
L 569.206452 189.63871 
L 570.948387 191.380645 
L 574.374194 200.612903 
L 576.116129 202.935484 
L 577.858065 199.451613 
L 579.019355 204.096774 
L 580.76129 214.490323 
L 582.445161 222.56129 
L 584.767742 224.303226 
L 587.670968 222.56129 
L 589.993548 224.883871 
L 592.2 228.6 
L 596.787097 235.509677 
L 599.109677 238.993548 
L 600.851613 243.580645 
L 602.593548 235.509677 
L 603.754839 230.864516 
L 605.43871 229.76129 
L 608.341935 227.43871 
L 610.083871 230.864516 
L 611.825806 237.832258 
L 615.251613 253.974194 
L 616.993548 257.458065 
L 619.316129 253.974194 
L 620.477419 251.651613 
L 622.219355 257.458065 
L 624.483871 262.045161 
L 626.806452 262.045161 
L 627.967742 265.529032 
L 629.709677 270.116129 
L 630.870968 262.045161 
L 632.032258 252.812903 
L 633.716129 243.580645 
L 637.2 232.025806 
L 638.941935 227.43871 
L 640.683871 225.116129 
L 642.367742 226.858065 
L 644.109677 230.864516 
L 646.432258 235.509677 
L 648.754839 238.993548 
L 651.6 239.516129 
L 653.922581 241.83871 
L 656.245161 244.741935 
L 657.987097 243.580645 
L 662.574194 238.993548 
L 663.735484 229.76129 
L 664.896774 221.632258 
L 666.63871 223.954839 
L 667.8 232.025806 
L 669.541935 238.993548 
L 671.806452 245.903226 
L 672.677419 251.012903 
L 674.535484 259.664516 
L 677.032258 268.896774 
L 678.251613 259.664516 
L 679.470968 243.580645 
L 680.109677 237.367742 
L 681.967742 240.445161 
L 683.825806 239.225806 
L 686.322581 241.083871 
L 689.4 241.722581 
L 691.83871 247.296774 
L 693.696774 258.387097 
L 696.193548 259.664516 
L 698.690323 255.948387 
L 700.548387 248.516129 
L 702.406452 243.580645 
L 705.483871 244.8 
L 708.56129 245.43871 
L 711.63871 244.16129 
L 714.774194 240.445161 
L 717.212903 241.083871 
L 720.290323 243.580645 
L 726.503226 237.367742 
L 729.580645 233.651613 
L 731.43871 227.496774 
L 732.658065 220.064516 
L 733.935484 215.709677 
L 735.793548 212.051613 
L 738.232258 210.774194 
L 740.729032 215.129032 
L 742.587097 220.064516 
L 744.445161 221.283871 
L 746.883871 221.283871 
L 748.741935 212.632258 
L 750.6 207.696774 
L 753.096774 202.76129 
L 755.593548 196.548387 
L 757.451613 188.709677 
L 759.774194 184.935484 
L 762.329032 184.703226 
L 764.477419 189.754839 
L 765.929032 199.858065 
L 768.077419 211.412903 
L 769.006452 213.677419 
L 769.006452 213.677419 
" clip-path="url(#p5d248809db)" style="fill: none; stroke-dasharray: 5.55,2.4; stroke-dashoffset: 0; stroke: #a26c52; stroke-width: 1.5"/>
   </g>
   <g id="line2d_12">
    <path d="M 66.541935 274.819355 
L 68.748387 283.703226 
L 72.116129 290.43871 
L 74.322581 283.703226 
L 77.690323 272.612903 
L 81 263.670968 
L 83.264516 256.993548 
L 89.941935 234.696774 
L 91.277419 230.516129 
L 93.716129 221.864516 
L 96.851613 214.432258 
L 100.567742 204.503226 
L 105.503226 192.774194 
L 107.941935 192.774194 
L 109.8 189.696774 
L 112.935484 193.993548 
L 115.374194 199.567742 
L 117.870968 202.064516 
L 120.948387 202.064516 
L 124.025806 208.219355 
L 127.16129 215.651613 
L 129.6 211.935484 
L 132.677419 219.367742 
L 135.174194 216.870968 
L 138.251613 219.367742 
L 141.329032 223.083871 
L 143.825806 226.8 
L 146.322581 223.083871 
L 150.03871 219.367742 
L 154.335484 212.574194 
L 158.690323 212.922581 
L 162.406452 215.012903 
L 165.483871 221.864516 
L 167.341935 230.516129 
L 168.735484 233.070968 
L 172.451613 239.283871 
L 175.587097 244.219355 
L 178.025806 240.503226 
L 181.103226 236.787097 
L 184.819355 233.070968 
L 188.535484 223.2 
L 192.251613 218.845161 
L 195.967742 216.987097 
L 199.683871 217.625806 
L 203.4 220.703226 
L 207.116129 225.63871 
L 209.554839 223.2 
L 213.270968 223.2 
L 216.987097 223.780645 
L 220.703226 218.845161 
L 228.135484 217.625806 
L 231.851613 215.767742 
L 235.567742 216.987097 
L 239.283871 215.767742 
L 242.941935 213.909677 
L 250.374194 217.625806 
L 254.729032 220.064516 
L 259.025806 221.922581 
L 262.741935 225.63871 
L 270.174194 234.290323 
L 272.903226 239.283871 
L 274.76129 244.219355 
L 277.83871 242.36129 
L 281.554839 239.283871 
L 285.270968 239.283871 
L 294.56129 236.787097 
L 297.63871 231.851613 
L 300.716129 223.2 
L 304.432258 218.206452 
L 308.148387 214.548387 
L 310.006452 215.767742 
L 313.722581 219.483871 
L 317.43871 219.716129 
L 321.735484 220.935484 
L 326.090323 221.922581 
L 329.167742 223.2 
L 332.245161 223.2 
L 338.458065 215.767742 
L 340.896774 208.335484 
L 342.174194 199.683871 
L 344.612903 197.825806 
L 347.109677 197.187097 
L 350.187097 199.683871 
L 353.264516 193.470968 
L 355.76129 191.032258 
L 359.477419 189.174194 
L 364.412903 187.954839 
L 368.129032 184.819355 
L 371.845161 182.96129 
L 374.341935 182.380645 
L 376.780645 191.032258 
L 380.496774 195.967742 
L 384.212903 202.180645 
L 386.941935 206.36129 
L 390.658065 210.077419 
L 393.096774 211.296774 
L 396.812903 206.36129 
L 399.948387 201.425806 
L 403.025806 200.148387 
L 406.741935 197.070968 
L 414.116129 199.567742 
L 416.612903 196.432258 
L 419.109677 206.36129 
L 421.548387 212.516129 
L 425.264516 216.232258 
L 427.76129 221.167742 
L 430.2 228.6 
L 432.696774 233.535484 
L 438.967742 239.806452 
L 446.4 236.090323 
L 450.058065 236.729032 
L 453.774194 239.806452 
L 456.270968 244.16129 
L 459.348387 249.096774 
L 462.425806 253.393548 
L 465.56129 255.251613 
L 469.277419 254.032258 
L 472.935484 253.393548 
L 476.070968 254.670968 
L 479.148387 257.109677 
L 482.225806 260.245161 
L 485.941935 257.748387 
L 489.658065 254.032258 
L 493.374194 254.670968 
L 496.451613 254.032258 
L 500.167742 251.535484 
L 503.883871 249.735484 
L 506.96129 246.6 
L 508.819355 242.883871 
L 511.316129 233.012903 
L 515.032258 231.793548 
L 518.748387 234.870968 
L 526.122581 232.374194 
L 528.619355 231.154839 
L 534.774194 233.651613 
L 538.490323 232.374194 
L 542.206452 231.793548 
L 544.703226 234.290323 
L 548.303226 237.309677 
L 552.483871 237.309677 
L 557.245161 240.270968 
L 564.445161 245.090323 
L 566.825806 244.451613 
L 570.425806 245.670968 
L 573.967742 248.051613 
L 577.567742 245.670968 
L 581.167742 243.870968 
L 584.709677 245.903226 
L 587.554839 243 
L 591.03871 242.419355 
L 594.522581 243 
L 597.948387 241.83871 
L 604.858065 244.16129 
L 608.341935 246.483871 
L 611.825806 247.064516 
L 614.090323 246.483871 
L 616.412903 244.741935 
L 619.896774 245.903226 
L 626.806452 244.741935 
L 630.290323 243.580645 
L 633.135484 241.83871 
L 635.458065 236.670968 
L 638.36129 234.929032 
L 641.264516 234.929032 
L 644.109677 235.509677 
L 651.019355 236.670968 
L 654.503226 237.832258 
L 657.987097 237.251613 
L 661.412903 236.090323 
L 663.735484 233.187097 
L 664.896774 228.6 
L 666.63871 229.180645 
L 668.380645 232.025806 
L 670.819355 234.929032 
L 673.954839 237.367742 
L 677.032258 239.225806 
L 678.890323 236.148387 
L 682.606452 234.929032 
L 686.322581 236.148387 
L 689.980645 236.787097 
L 693.696774 238.645161 
L 698.690323 243.580645 
L 701.767742 243.580645 
L 705.483871 244.16129 
L 716.574194 240.445161 
L 720.290323 238.645161 
L 724.006452 235.567742 
L 727.664516 235.509677 
L 730.8 234.290323 
L 738.232258 230.574194 
L 741.948387 229.935484 
L 745.025806 231.793548 
L 748.741935 231.212903 
L 752.458065 231.212903 
L 756.174194 230.574194 
L 759.251613 227.496774 
L 765.464516 231.212903 
L 767.96129 234.290323 
L 767.96129 234.290323 
" clip-path="url(#p5d248809db)" style="fill: none; stroke-dasharray: 5.55,2.4; stroke-dashoffset: 0; stroke: #aaa896; stroke-width: 1.5"/>
   </g>
   <g id="patch_328">
    <path d="M 30.948387 393.270968 
L 30.948387 18.870968 
" style="fill: none; stroke: #000000; stroke-width: 0.8; stroke-linejoin: miter; stroke-linecap: square"/>
   </g>
   <g id="patch_329">
    <path d="M 804.193548 393.270968 
L 804.193548 18.870968 
" style="fill: none; stroke: #000000; stroke-width: 0.8; stroke-linejoin: miter; stroke-linecap: square"/>
   </g>
   <g id="patch_330">
    <path d="M 30.948387 393.270968 
L 804.193548 393.270968 
" style="fill: none; stroke: #000000; stroke-width: 0.8; stroke-linejoin: miter; stroke-linecap: square"/>
   </g>
   <g id="patch_331">
    <path d="M 30.948387 18.870968 
L 804.193548 18.870968 
" style="fill: none; stroke: #000000; stroke-width: 0.8; stroke-linejoin: miter; stroke-linecap: square"/>
   </g>
   <g id="line2d_13">
    <path d="M 66.077419 78.329032 
L 68.632258 73.625806 
L 70.83871 73.625806 
L 72.929032 71.941935 
L 74.96129 72.929032 
L 79.490323 72.464516 
L 81.987097 73.277419 
L 84.019355 72.754839 
L 86.109677 74.032258 
L 88.141935 75.483871 
L 90.232258 62.070968 
L 92.264516 59.167742 
L 94.76129 59.748387 
L 96.851613 58.354839 
L 99.058065 56.090323 
L 102.6 54.63871 
L 105.909677 53.419355 
L 110.032258 51.329032 
L 112.064516 50.516129 
L 114.154839 50.690323 
L 116.36129 54.63871 
L 118.683871 53.651613 
L 122.806452 49.529032 
L 126.522581 48.716129 
L 129.135484 47.845161 
L 131.458065 46.393548 
L 133.780645 47.380645 
L 135.580645 58.122581 
L 137.670968 58.354839 
L 144.232258 61.083871 
L 146.729032 61.374194 
L 148.819355 66.832258 
L 150.851613 66.832258 
L 153.348387 66.6 
L 155.380645 67.645161 
L 160.316129 66.6 
L 166.122581 68.516129 
L 168.154839 66.367742 
L 172.103226 66.774194 
L 178.258065 66.135484 
L 181.393548 68.225806 
L 183.832258 67.645161 
L 187.548387 64.16129 
L 190.045161 65.787097 
L 194.341935 67.993548 
L 196.83871 66.774194 
L 198.696774 67.23871 
L 202.412903 66.658065 
L 204.909677 67.006452 
L 207.987097 68.225806 
L 211.064516 70.083871 
L 213.909677 72.232258 
L 217.858065 72.580645 
L 220.354839 77.516129 
L 222.851613 79.025806 
L 225.290323 78.735484 
L 227.554839 79.374194 
L 229.645161 78.735484 
L 231.503226 79.025806 
L 233.36129 76.529032 
L 237.077419 77.922581 
L 239.922581 83.322581 
L 242.593548 83.322581 
L 248.574194 81.870968 
L 250.664516 87.445161 
L 253.16129 87.03871 
L 255.019355 81.580645 
L 257.225806 87.445161 
L 259.722581 81.464516 
L 262.393548 82.741935 
L 266.109677 83.322581 
L 276.03871 86.806452 
L 281.612903 89.012903 
L 283.470968 89.012903 
L 287.187097 91.393548 
L 289.625806 90.522581 
L 292.76129 91.974194 
L 295.83871 92.148387 
L 298.277419 89.883871 
L 300.541935 92.729032 
L 302.632258 84.6 
L 306.987097 85.180645 
L 311.922581 84.832258 
L 315.63871 85.587097 
L 319.935484 87.03871 
L 328.587097 84.948387 
L 332.941935 86.167742 
L 335.43871 85.587097 
L 339.270968 87.445161 
L 341.477419 53.651613 
L 344.206452 55.625806 
L 346.645161 56.264516 
L 348.503226 55.858065 
L 351.63871 54.290323 
L 356.574194 53.651613 
L 359.651613 54 
L 361.509677 54.63871 
L 365.225806 54.870968 
L 367.722581 56.148387 
L 369.580645 55.277419 
L 373.877419 56.845161 
L 376.141935 54.987097 
L 380.090323 55.858065 
L 383.806452 57.832258 
L 387.522581 58.993548 
L 391.23871 61.083871 
L 400.122581 67.993548 
L 402.096774 66.367742 
L 406.045161 68.516129 
L 408.541935 70.374194 
L 412.258065 71.941935 
L 417.425806 74.787097 
L 419.4 103.529032 
L 422.129032 106.374194 
L 425.845161 108.464516 
L 428.341935 106.374194 
L 430.780645 108.058065 
L 434.496774 108.812903 
L 436.76129 108.464516 
L 438.851613 110.322581 
L 443.206452 112.529032 
L 446.864516 114.619355 
L 451.858065 116.245161 
L 454.935484 115.896774 
L 459.290323 116.883871 
L 464.806452 118.335484 
L 467.593548 120.483871 
L 473.806452 124.83871 
L 480.6 128.554839 
L 488.670968 134.36129 
L 493.2 136.974194 
L 495.174194 134.129032 
L 497.903226 135.348387 
L 502.896774 136.219355 
L 507.832258 138.077419 
L 510.56129 141.154839 
L 513.987097 140.051613 
L 518.980645 138.716129 
L 521.419355 137.845161 
L 529.490323 135.987097 
L 531.929032 133.490323 
L 536.283871 131.632258 
L 538.722581 130.993548 
L 540.987097 135.116129 
L 543.716129 135.348387 
L 548.012903 134.477419 
L 553.006452 135.580645 
L 556.083871 137.206452 
L 558.522581 137.554839 
L 562.23871 135.987097 
L 565.374194 133.490323 
L 568.451613 132.387097 
L 573.387097 131.283871 
L 578.322581 131.632258 
L 580.180645 132.503226 
L 582.03871 131.632258 
L 584.535484 132.387097 
L 593.187097 133.141935 
L 597.541935 134.129032 
L 599.4 133.606452 
L 601.83871 134.245161 
L 603.696774 132.851613 
L 612.348387 134.129032 
L 614.612903 132.270968 
L 616.703226 133.141935 
L 618.56129 132.851613 
L 620.651613 130.993548 
L 623.264516 133.141935 
L 625.354839 130.180645 
L 628.432258 130.645161 
L 631.567742 132.270968 
L 635.864516 133.722581 
L 642.193548 134.129032 
L 646.490323 135.580645 
L 648.987097 134.825806 
L 651.483871 135.348387 
L 653.341935 134.36129 
L 655.780645 135.696774 
L 658.277419 136.219355 
L 660.135484 135.696774 
L 662.574194 134.36129 
L 664.432258 134.129032 
L 666.580645 136.567742 
L 670.006452 135.348387 
L 672.735484 135 
L 675.232258 133.141935 
L 677.43871 133.83871 
L 681.154839 134.129032 
L 683.651613 135.987097 
L 687.367742 136.567742 
L 690.445161 137.43871 
L 692.303226 136.103226 
L 694.741935 137.845161 
L 697.006452 139.064516 
L 699.096774 141.909677 
L 703.451613 142.780645 
L 705.890323 143.419355 
L 707.748387 144.232258 
L 712.103226 144.406452 
L 718.258065 144.116129 
L 720.754839 144.754839 
L 724.470968 144.870968 
L 728.187097 145.509677 
L 731.264516 146.496774 
L 733.76129 145.858065 
L 736.83871 146.496774 
L 739.916129 147.716129 
L 742.180645 148.470968 
L 744.851613 147.483871 
L 748.567742 146.496774 
L 752.922581 144 
L 756.63871 142.548387 
L 759.716129 140.283871 
L 764.070968 139.180645 
L 766.509677 140.283871 
L 769.006452 139.064516 
L 769.006452 139.064516 
" clip-path="url(#p5d248809db)" style="fill: none; stroke: #a67736; stroke-width: 1.6; stroke-linecap: square"/>
   </g>
   <g id="line2d_14">
    <path d="M 66.309677 151.548387 
L 68.806452 145.741935 
L 70.83871 140.632258 
L 74.96129 139.587097 
L 79.490323 133.374194 
L 83.612903 135.696774 
L 87.909677 143.709677 
L 90.232258 134.070968 
L 93.367742 149.690323 
L 98.883871 137.496774 
L 103.006452 139.993548 
L 109.625806 145.741935 
L 114.154839 144.754839 
L 116.477419 139.819355 
L 120.774194 142.896774 
L 124.896774 137.090323 
L 126.929032 137.496774 
L 129.425806 134.593548 
L 132.270968 135.058065 
L 135.580645 141.212903 
L 138.483871 139.587097 
L 140.516129 140.806452 
L 142.2 133.374194 
L 144.522581 135.464516 
L 147.135484 141.619355 
L 148.819355 150.677419 
L 152.070968 156.483871 
L 155.380645 158.980645 
L 159.03871 164.845161 
L 164.554839 172.916129 
L 168.270968 166.122581 
L 172.625806 166.703226 
L 176.922581 164.264516 
L 179.187097 160.896774 
L 181.277419 164.496774 
L 183.774194 162.987097 
L 187.490323 150.619355 
L 190.567742 151.025806 
L 194.283871 150.619355 
L 198 160.548387 
L 201.716129 167.341935 
L 205.432258 170.825806 
L 207.870968 169.432258 
L 212.806452 169.780645 
L 217.8 167.109677 
L 220.23871 173.264516 
L 222.503226 164.612903 
L 224.941935 165.251613 
L 227.032258 167.341935 
L 230.748387 164.264516 
L 233.593548 168.56129 
L 237.309677 167.980645 
L 240.03871 171.290323 
L 243.987097 171.290323 
L 246.832258 167.574194 
L 250.548387 165.483871 
L 254.264516 168.329032 
L 257.109677 160.548387 
L 261.058065 164.612903 
L 266.051613 166.122581 
L 270.348387 175.993548 
L 276.56129 184.064516 
L 280.858065 184.064516 
L 285.56129 187.722581 
L 290.787097 186.909677 
L 294.503226 185.283871 
L 296.36129 186.909677 
L 298.219355 183.193548 
L 300.658065 184.064516 
L 302.516129 182.554839 
L 305.012903 185.283871 
L 308.729032 184.412903 
L 313.664516 175.993548 
L 316.16129 175.76129 
L 318.251613 177.212903 
L 322.316129 169.780645 
L 324.696774 168.851613 
L 326.554839 169.83871 
L 330.851613 183.077419 
L 335.206452 176.283871 
L 339.270968 178.490323 
L 341.767742 143.129032 
L 343.858065 143.477419 
L 348.212903 133.606452 
L 352.16129 131.109677 
L 356.864516 112.935484 
L 359.070968 112.180645 
L 361.16129 117.870968 
L 363.019355 115.896774 
L 365.516129 119.96129 
L 369.232258 129.251613 
L 374.167742 139.180645 
L 380.380645 152.129032 
L 383.458065 146.554839 
L 389.032258 130.470968 
L 391.470968 127.625806 
L 395.187097 128.670968 
L 398.903226 121.819355 
L 402.387097 116.651613 
L 406.335484 122.458065 
L 411.270968 129.251613 
L 417.832258 153.522581 
L 419.341935 187.606452 
L 422.012903 192.367742 
L 424.393548 194.806452 
L 426.193548 193.587097 
L 427.993548 189.63871 
L 434.554839 184.006452 
L 436.935484 179.245161 
L 438.735484 178.374194 
L 442.335484 174.483871 
L 445.935484 170.245161 
L 449.709677 165.251613 
L 452.148387 166.064516 
L 454.296774 161.303226 
L 456.445161 163.103226 
L 458.825806 160.722581 
L 461.43871 162.522581 
L 467.187097 172.451613 
L 469.8 173.845161 
L 473.4 180.406452 
L 477 188.187097 
L 479.96129 198.987097 
L 482.980645 201.135484 
L 488.380645 200.380645 
L 490.180645 197.187097 
L 492.793548 195.387097 
L 495.522581 199.916129 
L 499.122581 200.787097 
L 502.722581 195.793548 
L 506.43871 188.012903 
L 508.296774 188.36129 
L 510.793548 152.477419 
L 513.232258 146.322581 
L 516.948387 142.83871 
L 519.212903 144.058065 
L 521.535484 140.109677 
L 523.741935 143.593548 
L 526.877419 150.619355 
L 529.606452 151.896774 
L 534.251613 144.696774 
L 538.954839 144.464516 
L 540.464516 184.645161 
L 545.4 192.077419 
L 549.754839 198.290323 
L 555.329032 195.154839 
L 561.483871 193.064516 
L 564.967742 188.593548 
L 567.058065 190.858065 
L 569.554839 188.593548 
L 573.851613 179.941935 
L 576.348387 181.567742 
L 580.064516 188.36129 
L 582.270968 199.277419 
L 586.219355 195.793548 
L 592.258065 200.380645 
L 597.019355 204.967742 
L 599.458065 208.509677 
L 605.43871 208.277419 
L 610.2 212.748387 
L 612.580645 213.909677 
L 616.76129 219.077419 
L 618.793548 216.290323 
L 620.941935 209.148387 
L 623.090323 216.929032 
L 627.503226 211.529032 
L 629.941935 211.529032 
L 634.122581 202.296774 
L 637.722581 201.367742 
L 640.683871 197.767742 
L 643.645161 203.748387 
L 647.245161 207.929032 
L 649.625806 208.509677 
L 653.225806 203.980645 
L 655.606452 210.948387 
L 659.206452 208.509677 
L 662.225806 204.967742 
L 664.374194 193.23871 
L 666.406452 195.387097 
L 668.787097 212.109677 
L 670.587097 210.658065 
L 677.148387 218.322581 
L 679.296774 188.825806 
L 681.909677 187.258065 
L 683.709677 184.006452 
L 688.006452 185.458065 
L 692.36129 186.154839 
L 694.509677 195.270968 
L 698.806452 191.96129 
L 701.012903 188.303226 
L 706.064516 186.154839 
L 709.664516 185.458065 
L 711.812903 187.606452 
L 716.167742 183.716129 
L 719.767742 186.154839 
L 722.612903 189.058065 
L 725.516129 189.464516 
L 729.870968 192.367742 
L 733.877419 181.393548 
L 736.316129 180.812903 
L 742.122581 184.703226 
L 745.722581 182.554839 
L 748.625806 174.193548 
L 752.922581 170.303226 
L 755.070968 172.451613 
L 757.974194 170.709677 
L 760.877419 173.903226 
L 763.025806 178.954839 
L 765.174194 189.058065 
L 768.774194 189.754839 
L 768.774194 189.754839 
" clip-path="url(#p5d248809db)" style="fill: none; stroke: #e6b62e; stroke-width: 1.6; stroke-linecap: square"/>
   </g>
   <g id="text_12">
    <text style="font-size: 16px; font-family: 'DejaVu Sans', 'Liberation Sans', sans-serif; text-anchor: middle" x="417.570968" y="12.870968" transform="rotate(-0 417.570968 12.870968)">AR event from 2002-06-20 to 2002-07-04</text>
   </g>
   <g id="legend_1">
    <g id="patch_332">
     <path d="M 37.948387 388.270968 
L 233.832762 388.270968 
Q 235.832762 388.270968 235.832762 386.270968 
L 235.832762 312.458468 
Q 235.832762 310.458468 233.832762 310.458468 
L 37.948387 310.458468 
Q 35.948387 310.458468 35.948387 312.458468 
L 35.948387 386.270968 
Q 35.948387 388.270968 37.948387 388.270968 
z
" style="fill: #ffffff; opacity: 0.8; stroke: #cccccc; stroke-linejoin: miter"/>
    </g>
    <g id="line2d_15">
     <path d="M 39.948387 319.958468 
L 49.948387 319.958468 
L 59.948387 319.958468 
" style="fill: none; stroke: #a67736; stroke-width: 1.6; stroke-linecap: square"/>
    </g>
    <g id="text_13">
     
     <g transform="translate(67.948387 323.458468)">
      <text><tspan x="0" y="-0.064063" style="font-size: 10px; font-family: 'DejaVu Sans', 'Liberation Sans', sans-serif">MSE (10</tspan><tspan x="41.194336" y="-3.892188" style="font-size: 7px; font-family: 'DejaVu Sans', 'Liberation Sans', sans-serif">7</tspan><tspan x="49.100098" y="-0.064063" style="font-size: 10px; font-family: 'DejaVu Sans', 'Liberation Sans', sans-serif">J/m²)</tspan></text>
     </g>
    </g>
    <g id="line2d_16">
     <path d="M 39.948387 334.656905 
L 49.948387 334.656905 
L 59.948387 334.656905 
" style="fill: none; stroke-dasharray: 5.55,2.4; stroke-dashoffset: 0; stroke: #a26c52; stroke-width: 1.5"/>
    </g>
    <g id="text_14">
     <text style="font-size: 10px; font-family: 'DejaVu Sans', 'Liberation Sans', sans-serif; text-anchor: start" x="67.948387" y="338.156905" transform="rotate(-0 67.948387 338.156905)">hourly MSE Adv (W/m²)</text>
    </g>
    <g id="line2d_17">
     <path d="M 39.948387 349.33503 
L 49.948387 349.33503 
L 59.948387 349.33503 
" style="fill: none; stroke-dasharray: 5.55,2.4; stroke-dashoffset: 0; stroke: #aaa896; stroke-width: 1.5"/>
    </g>
    <g id="text_15">
     <text style="font-size: 10px; font-family: 'DejaVu Sans', 'Liberation Sans', sans-serif; text-anchor: start" x="67.948387" y="352.83503" transform="rotate(-0 67.948387 352.83503)">hourly Latent Heat Adv (W/m²)</text>
    </g>
    <g id="line2d_18">
     <path d="M 39.948387 364.013155 
L 49.948387 364.013155 
L 59.948387 364.013155 
" style="fill: none; stroke: #e6b62e; stroke-width: 1.6; stroke-linecap: square"/>
    </g>
    <g id="text_16">
     <text style="font-size: 10px; font-family: 'DejaVu Sans', 'Liberation Sans', sans-serif; text-anchor: start" x="67.948387" y="367.513155" transform="rotate(-0 67.948387 367.513155)">hourly Sensible Heat Adv (W/m²)</text>
    </g>
    <g id="patch_333">
     <path d="M 39.948387 382.19128 
L 59.948387 382.19128 
L 59.948387 375.19128 
L 39.948387 375.19128 
z
" style="fill: #af5246; stroke: #a3382c; stroke-width: 0.35; stroke-linejoin: miter"/>
    </g>
    <g id="text_17">
     <text style="font-size: 10px; font-family: 'DejaVu Sans', 'Liberation Sans', sans-serif; text-anchor: start" x="67.948387" y="382.19128" transform="rotate(-0 67.948387 382.19128)">hourly MSE tendency (W/m²)</text>
    </g>
   </g>
  </g>
  <g id="axes_2">
   <g id="matplotlib.axis_3">
    <g id="ytick_7">
     <g id="line2d_19">
      <defs>
       <path id="m27eb101637" d="M 0 0 
L 3.5 0 
" style="stroke: #000000; stroke-width: 0.8"/>
      </defs>
      <g>
       <use href="#m27eb101637" x="804.193548" y="393.270968" style="stroke: #000000; stroke-width: 0.8"/>
      </g>
     </g>
     <g id="text_18">
      <text style="font-size: 10px; font-family: 'DejaVu Sans', 'Liberation Sans', sans-serif; text-anchor: start" x="811.193548" y="397.070186" transform="rotate(-0 811.193548 397.070186)">0</text>
     </g>
    </g>
    <g id="ytick_8">
     <g id="line2d_20">
      <g>
       <use href="#m27eb101637" x="804.193548" y="343.347097" style="stroke: #000000; stroke-width: 0.8"/>
      </g>
     </g>
     <g id="text_19">
      <text style="font-size: 10px; font-family: 'DejaVu Sans', 'Liberation Sans', sans-serif; text-anchor: start" x="811.193548" y="347.146316" transform="rotate(-0 811.193548 347.146316)">2</text>
     </g>
    </g>
    <g id="ytick_9">
     <g id="line2d_21">
      <g>
       <use href="#m27eb101637" x="804.193548" y="293.423226" style="stroke: #000000; stroke-width: 0.8"/>
      </g>
     </g>
     <g id="text_20">
      <text style="font-size: 10px; font-family: 'DejaVu Sans', 'Liberation Sans', sans-serif; text-anchor: start" x="811.193548" y="297.222445" transform="rotate(-0 811.193548 297.222445)">4</text>
     </g>
    </g>
    <g id="ytick_10">
     <g id="line2d_22">
      <g>
       <use href="#m27eb101637" x="804.193548" y="243.499355" style="stroke: #000000; stroke-width: 0.8"/>
      </g>
     </g>
     <g id="text_21">
      <text style="font-size: 10px; font-family: 'DejaVu Sans', 'Liberation Sans', sans-serif; text-anchor: start" x="811.193548" y="247.298574" transform="rotate(-0 811.193548 247.298574)">6</text>
     </g>
    </g>
    <g id="ytick_11">
     <g id="line2d_23">
      <g>
       <use href="#m27eb101637" x="804.193548" y="193.575484" style="stroke: #000000; stroke-width: 0.8"/>
      </g>
     </g>
     <g id="text_22">
      <text style="font-size: 10px; font-family: 'DejaVu Sans', 'Liberation Sans', sans-serif; text-anchor: start" x="811.193548" y="197.374703" transform="rotate(-0 811.193548 197.374703)">8</text>
     </g>
    </g>
    <g id="ytick_12">
     <g id="line2d_24">
      <g>
       <use href="#m27eb101637" x="804.193548" y="143.651613" style="stroke: #000000; stroke-width: 0.8"/>
      </g>
     </g>
     <g id="text_23">
      <text style="font-size: 10px; font-family: 'DejaVu Sans', 'Liberation Sans', sans-serif; text-anchor: start" x="811.193548" y="147.450832" transform="rotate(-0 811.193548 147.450832)">10</text>
     </g>
    </g>
    <g id="ytick_13">
     <g id="line2d_25">
      <g>
       <use href="#m27eb101637" x="804.193548" y="93.727742" style="stroke: #000000; stroke-width: 0.8"/>
      </g>
     </g>
     <g id="text_24">
      <text style="font-size: 10px; font-family: 'DejaVu Sans', 'Liberation Sans', sans-serif; text-anchor: start" x="811.193548" y="97.526961" transform="rotate(-0 811.193548 97.526961)">12</text>
     </g>
    </g>
    <g id="ytick_14">
     <g id="line2d_26">
      <g>
       <use href="#m27eb101637" x="804.193548" y="43.803871" style="stroke: #000000; stroke-width: 0.8"/>
      </g>
     </g>
     <g id="text_25">
      <text style="font-size: 10px; font-family: 'DejaVu Sans', 'Liberation Sans', sans-serif; text-anchor: start" x="811.193548" y="47.60309" transform="rotate(-0 811.193548 47.60309)">14</text>
     </g>
    </g>
    <g id="text_26">
     <text style="font-size: 14px; font-family: 'DejaVu Sans', 'Liberation Sans', sans-serif; text-anchor: middle" x="838.556361" y="206.070968" transform="rotate(-90 838.556361 206.070968)">Precipitation Intensity</text>
    </g>
   </g>
   <g id="line2d_27">
    <path d="M 68.650258 82.567742 
L 81.648581 169.896774 
L 94.646903 152.070968 
L 107.645226 80.070968 
L 120.643548 80.303226 
L 133.641871 133.490323 
L 146.640194 151.316129 
L 159.638516 170.36129 
L 172.636839 212.4 
L 185.635161 230.980645 
L 198.633484 216.406452 
L 211.631806 218.845161 
L 224.630129 202.296774 
L 237.628452 215.129032 
L 250.626774 195.329032 
L 263.625097 191.903226 
L 276.623419 198.754839 
L 289.621742 214.548387 
L 302.620065 203.690323 
L 315.618387 207.232258 
L 328.61671 211.006452 
L 341.615032 213.154839 
L 354.613355 172.974194 
L 367.611677 163.277419 
L 380.61 182.496774 
L 393.608323 230.4 
L 406.606645 237.890323 
L 419.604968 254.554839 
L 432.60329 270 
L 445.601613 253.741935 
L 458.599935 243.232258 
L 471.598258 211.993548 
L 484.596581 201.077419 
L 497.594903 229.006452 
L 510.593226 239.283871 
L 523.591548 242.477419 
L 536.589871 208.625806 
L 543.089032 212.574194 
L 556.087355 217.916129 
L 569.085677 222.096774 
L 582.084 208.625806 
L 595.082323 232.780645 
L 608.080645 228.425806 
L 621.078968 242.651613 
L 634.07729 246.193548 
L 647.075613 234.580645 
L 660.073935 265.006452 
L 673.072258 254.554839 
L 686.070581 250.548387 
L 699.068903 249.387097 
L 712.067226 243.870968 
L 725.065548 228.019355 
L 738.063871 226.045161 
L 751.062194 228.425806 
L 764.060516 204.096774 
" clip-path="url(#p5d248809db)" style="fill: none; stroke-dasharray: 1.5,2.475; stroke-dashoffset: 0; stroke: #1a3282; stroke-width: 1.5"/>
    <defs>
     <path id="m43ddf57ce8" d="M 0 3 
C 0.795609 3 1.55874 2.683901 2.12132 2.12132 
C 2.683901 1.55874 3 0.795609 3 0 
C 3 -0.795609 2.683901 -1.55874 2.12132 -2.12132 
C 1.55874 -2.683901 0.795609 -3 0 -3 
C -0.795609 -3 -1.55874 -2.683901 -2.12132 -2.12132 
C -2.683901 -1.55874 -3 -0.795609 -3 0 
C -3 0.795609 -2.683901 1.55874 -2.12132 2.12132 
C -1.55874 2.683901 -0.795609 3 0 3 
z
" style="stroke: #2d4b93"/>
    </defs>
    <g clip-path="url(#p5d248809db)">
     <use href="#m43ddf57ce8" x="68.650258" y="82.567742" style="fill: #3c5c9e; stroke: #2d4b93"/>
     <use href="#m43ddf57ce8" x="81.648581" y="169.896774" style="fill: #3c5c9e; stroke: #2d4b93"/>
     <use href="#m43ddf57ce8" x="94.646903" y="152.070968" style="fill: #3c5c9e; stroke: #2d4b93"/>
     <use href="#m43ddf57ce8" x="107.645226" y="80.070968" style="fill: #3c5c9e; stroke: #2d4b93"/>
     <use href="#m43ddf57ce8" x="120.643548" y="80.303226" style="fill: #3c5c9e; stroke: #2d4b93"/>
     <use href="#m43ddf57ce8" x="133.641871" y="133.490323" style="fill: #3c5c9e; stroke: #2d4b93"/>
     <use href="#m43ddf57ce8" x="146.640194" y="151.316129" style="fill: #3c5c9e; stroke: #2d4b93"/>
     <use href="#m43ddf57ce8" x="159.638516" y="170.36129" style="fill: #3c5c9e; stroke: #2d4b93"/>
     <use href="#m43ddf57ce8" x="172.636839" y="212.4" style="fill: #3c5c9e; stroke: #2d4b93"/>
     <use href="#m43ddf57ce8" x="185.635161" y="230.980645" style="fill: #3c5c9e; stroke: #2d4b93"/>
     <use href="#m43ddf57ce8" x="198.633484" y="216.406452" style="fill: #3c5c9e; stroke: #2d4b93"/>
     <use href="#m43ddf57ce8" x="211.631806" y="218.845161" style="fill: #3c5c9e; stroke: #2d4b93"/>
     <use href="#m43ddf57ce8" x="224.630129" y="202.296774" style="fill: #3c5c9e; stroke: #2d4b93"/>
     <use href="#m43ddf57ce8" x="237.628452" y="215.129032" style="fill: #3c5c9e; stroke: #2d4b93"/>
     <use href="#m43ddf57ce8" x="250.626774" y="195.329032" style="fill: #3c5c9e; stroke: #2d4b93"/>
     <use href="#m43ddf57ce8" x="263.625097" y="191.903226" style="fill: #3c5c9e; stroke: #2d4b93"/>
     <use href="#m43ddf57ce8" x="276.623419" y="198.754839" style="fill: #3c5c9e; stroke: #2d4b93"/>
     <use href="#m43ddf57ce8" x="289.621742" y="214.548387" style="fill: #3c5c9e; stroke: #2d4b93"/>
     <use href="#m43ddf57ce8" x="302.620065" y="203.690323" style="fill: #3c5c9e; stroke: #2d4b93"/>
     <use href="#m43ddf57ce8" x="315.618387" y="207.232258" style="fill: #3c5c9e; stroke: #2d4b93"/>
     <use href="#m43ddf57ce8" x="328.61671" y="211.006452" style="fill: #3c5c9e; stroke: #2d4b93"/>
     <use href="#m43ddf57ce8" x="341.615032" y="213.154839" style="fill: #3c5c9e; stroke: #2d4b93"/>
     <use href="#m43ddf57ce8" x="354.613355" y="172.974194" style="fill: #3c5c9e; stroke: #2d4b93"/>
     <use href="#m43ddf57ce8" x="367.611677" y="163.277419" style="fill: #3c5c9e; stroke: #2d4b93"/>
     <use href="#m43ddf57ce8" x="380.61" y="182.496774" style="fill: #3c5c9e; stroke: #2d4b93"/>
     <use href="#m43ddf57ce8" x="393.608323" y="230.4" style="fill: #3c5c9e; stroke: #2d4b93"/>
     <use href="#m43ddf57ce8" x="406.606645" y="237.890323" style="fill: #3c5c9e; stroke: #2d4b93"/>
     <use href="#m43ddf57ce8" x="419.604968" y="254.554839" style="fill: #3c5c9e; stroke: #2d4b93"/>
     <use href="#m43ddf57ce8" x="432.60329" y="270" style="fill: #3c5c9e; stroke: #2d4b93"/>
     <use href="#m43ddf57ce8" x="445.601613" y="253.741935" style="fill: #3c5c9e; stroke: #2d4b93"/>
     <use href="#m43ddf57ce8" x="458.599935" y="243.232258" style="fill: #3c5c9e; stroke: #2d4b93"/>
     <use href="#m43ddf57ce8" x="471.598258" y="211.993548" style="fill: #3c5c9e; stroke: #2d4b93"/>
     <use href="#m43ddf57ce8" x="484.596581" y="201.077419" style="fill: #3c5c9e; stroke: #2d4b93"/>
     <use href="#m43ddf57ce8" x="497.594903" y="229.006452" style="fill: #3c5c9e; stroke: #2d4b93"/>
     <use href="#m43ddf57ce8" x="510.593226" y="239.283871" style="fill: #3c5c9e; stroke: #2d4b93"/>
     <use href="#m43ddf57ce8" x="523.591548" y="242.477419" style="fill: #3c5c9e; stroke: #2d4b93"/>
     <use href="#m43ddf57ce8" x="536.589871" y="208.625806" style="fill: #3c5c9e; stroke: #2d4b93"/>
     <use href="#m43ddf57ce8" x="543.089032" y="212.574194" style="fill: #3c5c9e; stroke: #2d4b93"/>
     <use href="#m43ddf57ce8" x="556.087355" y="217.916129" style="fill: #3c5c9e; stroke: #2d4b93"/>
     <use href="#m43ddf57ce8" x="569.085677" y="222.096774" style="fill: #3c5c9e; stroke: #2d4b93"/>
     <use href="#m43ddf57ce8" x="582.084" y="208.625806" style="fill: #3c5c9e; stroke: #2d4b93"/>
     <use href="#m43ddf57ce8" x="595.082323" y="232.780645" style="fill: #3c5c9e; stroke: #2d4b93"/>
     <use href="#m43ddf57ce8" x="608.080645" y="228.425806" style="fill: #3c5c9e; stroke: #2d4b93"/>
     <use href="#m43ddf57ce8" x="621.078968" y="242.651613" style="fill: #3c5c9e; stroke: #2d4b93"/>
     <use href="#m43ddf57ce8" x="634.07729" y="246.193548" style="fill: #3c5c9e; stroke: #2d4b93"/>
     <use href="#m43ddf57ce8" x="647.075613" y="234.580645" style="fill: #3c5c9e; stroke: #2d4b93"/>
     <use href="#m43ddf57ce8" x="660.073935" y="265.006452" style="fill: #3c5c9e; stroke: #2d4b93"/>
     <use href="#m43ddf57ce8" x="673.072258" y="254.554839" style="fill: #3c5c9e; stroke: #2d4b93"/>
     <use href="#m43ddf57ce8" x="686.070581" y="250.548387" style="fill: #3c5c9e; stroke: #2d4b93"/>
     <use href="#m43ddf57ce8" x="699.068903" y="249.387097" style="fill: #3c5c9e; stroke: #2d4b93"/>
     <use href="#m43ddf57ce8" x="712.067226" y="243.870968" style="fill: #3c5c9e; stroke: #2d4b93"/>
     <use href="#m43ddf57ce8" x="725.065548" y="228.019355" style="fill: #3c5c9e; stroke: #2d4b93"/>
     <use href="#m43ddf57ce8" x="738.063871" y="226.045161" style="fill: #3c5c9e; stroke: #2d4b93"/>
     <use href="#m43ddf57ce8" x="751.062194" y="228.425806" style="fill: #3c5c9e; stroke: #2d4b93"/>
     <use href="#m43ddf57ce8" x="764.060516" y="204.096774" style="fill: #3c5c9e; stroke: #2d4b93"/>
    </g>
   </g>
   <g id="patch_334">
    <path d="M 30.948387 393.270968 
L 30.948387 18.870968 
" style="fill: none; stroke: #000000; stroke-width: 0.8; stroke-linejoin: miter; stroke-linecap: square"/>
   </g>
   <g id="patch_335">
    <path d="M 804.193548 393.270968 
L 804.193548 18.870968 
" style="fill: none; stroke: #000000; stroke-width: 0.8; stroke-linejoin: miter; stroke-linecap: square"/>
   </g>
   <g id="patch_336">
    <path d="M 30.948387 393.270968 
L 804.193548 393.270968 
" style="fill: none; stroke: #000000; stroke-width: 0.8; stroke-linejoin: miter; stroke-linecap: square"/>
   </g>
   <g id="patch_337">
    <path d="M 30.948387 18.870968 
L 804.193548 18.870968 
" style="fill: none; stroke: #000000; stroke-width: 0.8; stroke-linejoin: miter; stroke-linecap: square"/>
   </g>
   <g id="legend_2">
    <g id="patch_338">
     <path d="M 603.437298 388.270968 
L 797.193548 388.270968 
Q 799.193548 388.270968 799.193548 386.270968 
L 799.193548 372.592843 
Q 799.193548 370.592843 797.193548 370.592843 
L 603.437298 370.592843 
Q 601.437298 370.592843 601.437298 372.592843 
L 601.437298 386.270968 
Q 601.437298 388.270968 603.437298 388.270968 
z
" style="fill: #ffffff; opacity: 0.8; stroke: #cccccc; stroke-linejoin: miter"/>
    </g>
    <g id="line2d_28">
     <path d="M 605.437298 378.69128 
L 615.437298 378.69128 
L 625.437298 378.69128 
" style="fill: none; stroke-dasharray: 1.5,2.475; stroke-dashoffset: 0; stroke: #1a3282; stroke-width: 1.5"/>
     <g>
      <use href="#m43ddf57ce8" x="615.437298" y="378.69128" style="fill: #3c5c9e; stroke: #2d4b93"/>
     </g>
    </g>
    <g id="text_27">
     <text style="font-size: 10px; font-family: 'DejaVu Sans', 'Liberation Sans', sans-serif; text-anchor: start" x="633.437298" y="382.19128" transform="rotate(-0 633.437298 382.19128)">Precipitation Intensity (6-hourly)</text>
    </g>
   </g>
  </g>
 </g>
 <defs>
  <clipPath id="p5d248809db">
   <rect x="30.948387" y="18.870968" width="773.245161" height="374.4"/>
  </clipPath>
 </defs>
</svg>

</body></html>
